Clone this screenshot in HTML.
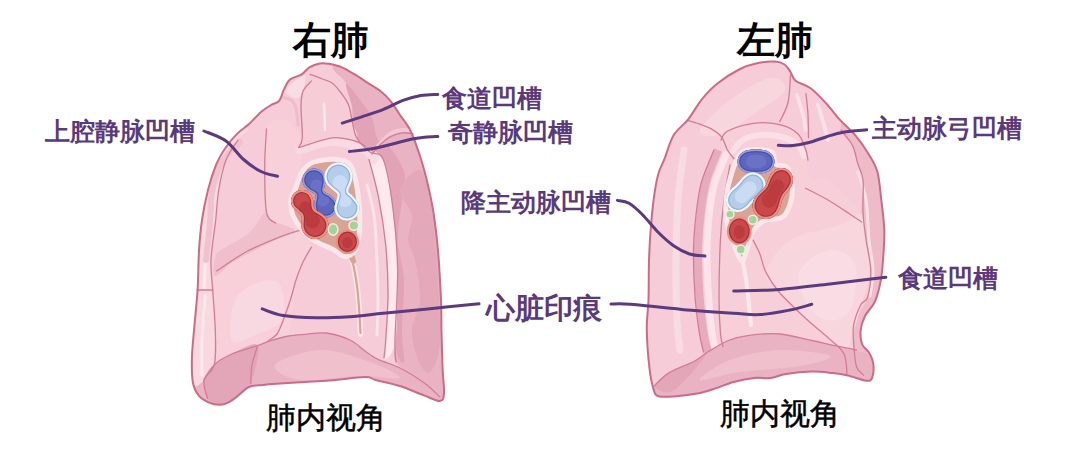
<!DOCTYPE html>
<html><head><meta charset="utf-8">
<style>
html,body{margin:0;padding:0;background:#fff;width:1080px;height:463px;overflow:hidden}
body{position:relative;font-family:"Liberation Sans",sans-serif}
svg{position:absolute;left:0;top:0}
.t{position:absolute;white-space:nowrap;line-height:1}
.ttl{font-size:38px;font-weight:700;color:#000}
.lab{font-size:25px;font-weight:700;color:#5a3a7c}
.sub{font-size:30px;font-weight:400;color:#000;-webkit-text-stroke:0.5px #000}
</style></head><body>
<svg width="1080" height="463" viewBox="0 0 1080 463"><clipPath id="rc"><path d="M319.8,63.4 C323.1,62.8 325.2,63.1 328.9,63.8 C332.6,64.5 337.5,65.5 341.8,67.3 C346.1,69.1 350.5,71.8 354.8,74.4 C359.1,77.0 363.4,80.1 367.7,82.9 C372.0,85.7 376.8,88.2 380.7,91.3 C384.6,94.4 387.8,97.6 391.0,101.6 C394.2,105.5 396.7,110.1 400.0,115.0 C403.3,119.9 407.3,124.2 410.6,131.0 C413.9,137.8 417.1,147.2 420.0,156.0 C422.9,164.8 425.4,174.3 427.7,184.0 C430.0,193.7 432.0,202.9 433.7,214.0 C435.4,225.1 436.8,236.4 438.0,250.7 C439.2,265.0 440.4,286.4 441.0,300.0 C441.6,313.6 441.2,320.6 441.5,332.0 C441.8,343.4 442.2,358.5 442.6,368.7 C443.0,378.9 444.4,387.6 444.0,393.0 C443.6,398.4 443.3,400.6 440.0,401.0 C436.7,401.4 430.7,397.9 424.0,395.4 C417.3,392.9 408.1,388.6 400.0,386.0 C391.9,383.4 381.4,381.5 375.6,380.0 C369.8,378.5 372.6,376.9 365.0,377.0 C357.4,377.1 340.0,379.7 330.0,380.5 C320.0,381.3 313.3,381.5 305.0,382.0 C296.7,382.5 287.0,383.1 280.0,383.6 C273.0,384.1 268.0,384.4 262.8,385.0 C257.6,385.6 253.3,385.1 249.0,387.0 C244.7,388.9 240.5,394.0 237.0,396.6 C233.5,399.2 230.9,401.2 228.0,402.6 C225.1,404.0 222.8,404.7 219.6,404.7 C216.4,404.7 212.5,404.1 209.0,402.6 C205.5,401.1 201.5,399.1 198.8,395.7 C196.1,392.3 193.9,388.6 192.8,382.0 C191.7,375.4 191.7,365.5 192.0,356.0 C192.3,346.5 193.6,336.0 194.5,325.0 C195.4,314.0 196.8,302.3 197.6,290.0 C198.3,277.7 198.3,262.7 199.0,251.0 C199.7,239.3 200.5,230.2 202.0,220.0 C203.5,209.8 205.7,199.2 208.0,190.0 C210.3,180.8 213.1,172.1 216.0,165.0 C218.9,157.9 222.0,153.0 225.6,147.7 C229.2,142.4 233.6,137.3 237.5,133.4 C241.4,129.5 245.1,127.6 249.0,124.0 C252.9,120.4 257.3,115.2 261.0,112.0 C264.7,108.8 268.0,106.8 271.0,105.0 C274.0,103.2 276.8,103.6 279.0,101.0 C281.2,98.4 282.2,93.0 284.0,89.4 C285.8,85.8 287.1,82.1 290.0,79.6 C292.9,77.1 298.5,76.5 301.7,74.4 C304.9,72.4 306.4,69.1 309.4,67.3 C312.4,65.5 316.6,64.0 319.8,63.4 Z"/></clipPath>
<path d="M319.8,63.4 C323.1,62.8 325.2,63.1 328.9,63.8 C332.6,64.5 337.5,65.5 341.8,67.3 C346.1,69.1 350.5,71.8 354.8,74.4 C359.1,77.0 363.4,80.1 367.7,82.9 C372.0,85.7 376.8,88.2 380.7,91.3 C384.6,94.4 387.8,97.6 391.0,101.6 C394.2,105.5 396.7,110.1 400.0,115.0 C403.3,119.9 407.3,124.2 410.6,131.0 C413.9,137.8 417.1,147.2 420.0,156.0 C422.9,164.8 425.4,174.3 427.7,184.0 C430.0,193.7 432.0,202.9 433.7,214.0 C435.4,225.1 436.8,236.4 438.0,250.7 C439.2,265.0 440.4,286.4 441.0,300.0 C441.6,313.6 441.2,320.6 441.5,332.0 C441.8,343.4 442.2,358.5 442.6,368.7 C443.0,378.9 444.4,387.6 444.0,393.0 C443.6,398.4 443.3,400.6 440.0,401.0 C436.7,401.4 430.7,397.9 424.0,395.4 C417.3,392.9 408.1,388.6 400.0,386.0 C391.9,383.4 381.4,381.5 375.6,380.0 C369.8,378.5 372.6,376.9 365.0,377.0 C357.4,377.1 340.0,379.7 330.0,380.5 C320.0,381.3 313.3,381.5 305.0,382.0 C296.7,382.5 287.0,383.1 280.0,383.6 C273.0,384.1 268.0,384.4 262.8,385.0 C257.6,385.6 253.3,385.1 249.0,387.0 C244.7,388.9 240.5,394.0 237.0,396.6 C233.5,399.2 230.9,401.2 228.0,402.6 C225.1,404.0 222.8,404.7 219.6,404.7 C216.4,404.7 212.5,404.1 209.0,402.6 C205.5,401.1 201.5,399.1 198.8,395.7 C196.1,392.3 193.9,388.6 192.8,382.0 C191.7,375.4 191.7,365.5 192.0,356.0 C192.3,346.5 193.6,336.0 194.5,325.0 C195.4,314.0 196.8,302.3 197.6,290.0 C198.3,277.7 198.3,262.7 199.0,251.0 C199.7,239.3 200.5,230.2 202.0,220.0 C203.5,209.8 205.7,199.2 208.0,190.0 C210.3,180.8 213.1,172.1 216.0,165.0 C218.9,157.9 222.0,153.0 225.6,147.7 C229.2,142.4 233.6,137.3 237.5,133.4 C241.4,129.5 245.1,127.6 249.0,124.0 C252.9,120.4 257.3,115.2 261.0,112.0 C264.7,108.8 268.0,106.8 271.0,105.0 C274.0,103.2 276.8,103.6 279.0,101.0 C281.2,98.4 282.2,93.0 284.0,89.4 C285.8,85.8 287.1,82.1 290.0,79.6 C292.9,77.1 298.5,76.5 301.7,74.4 C304.9,72.4 306.4,69.1 309.4,67.3 C312.4,65.5 316.6,64.0 319.8,63.4 Z" fill="#f5ccd7" stroke="none" stroke-width="0" />
<g clip-path="url(#rc)"><path d="M266.0,128.0 C269.3,120.3 279.0,118.0 285.0,120.0 C291.0,122.0 299.5,131.7 302.0,140.0 C304.5,148.3 301.3,160.0 300.0,170.0 C298.7,180.0 294.0,190.0 294.0,200.0 C294.0,210.0 303.0,226.0 300.0,230.0 C297.0,234.0 281.7,227.0 276.0,224.0 C270.3,221.0 267.8,221.7 266.0,212.0 C264.2,202.3 265.0,180.0 265.0,166.0 C265.0,152.0 262.7,135.7 266.0,128.0 Z" fill="#f7d0d9" stroke="none" stroke-width="0" /><path d="M334.0,64.0 C328.1,69.2 341.6,76.0 344.4,81.0 C347.2,86.0 349.7,88.3 351.0,94.0 C352.3,99.7 351.1,107.7 352.0,115.0 C352.9,122.3 353.7,131.6 356.7,137.8 C359.7,144.0 365.6,148.4 370.0,152.0 C374.4,155.6 379.5,150.3 383.3,159.5 C387.1,168.7 390.4,188.8 392.8,207.0 C395.2,225.2 397.2,246.8 397.6,269.0 C398.0,291.2 395.3,325.0 395.0,340.5 C394.7,356.0 391.8,355.4 396.0,362.0 C400.2,368.6 411.0,373.7 420.0,380.0 C429.0,386.3 443.3,413.3 450.0,400.0 C456.7,386.7 460.0,350.0 460.0,300.0 C460.0,250.0 463.3,141.7 450.0,100.0 C436.7,58.3 399.3,56.0 380.0,50.0 C360.7,44.0 339.9,58.8 334.0,64.0 Z" fill="#e9b3c3" stroke="none" stroke-width="0" /><path d="M346.0,84.0 C347.2,82.3 355.7,94.3 360.0,100.0 C364.3,105.7 369.0,111.3 372.0,118.0 C375.0,124.7 374.7,134.7 378.0,140.0 C381.3,145.3 387.5,144.2 392.0,150.0 C396.5,155.8 403.3,166.7 405.0,175.0 C406.7,183.3 403.2,189.2 402.0,200.0 C400.8,210.8 397.7,226.7 398.0,240.0 C398.3,253.3 403.3,265.0 404.0,280.0 C404.7,295.0 402.0,316.3 402.0,330.0 C402.0,343.7 405.0,359.5 404.0,362.0 C403.0,364.5 397.0,360.5 396.0,345.0 C395.0,329.5 398.5,292.0 398.0,269.0 C397.5,246.0 395.3,225.2 393.0,207.0 C390.7,188.8 390.0,171.5 384.0,160.0 C378.0,148.5 362.2,146.3 357.0,138.0 C351.8,129.7 354.8,119.0 353.0,110.0 C351.2,101.0 344.8,85.7 346.0,84.0 Z" fill="#e2a3b7" stroke="none" stroke-width="0" /><path d="M400.0,190.0 C398.7,197.5 410.7,206.7 412.0,215.0 C413.3,223.3 407.5,232.5 408.0,240.0 C408.5,247.5 413.0,250.0 415.0,260.0 C417.0,270.0 420.5,288.3 420.0,300.0 C419.5,311.7 412.3,320.0 412.0,330.0 C411.7,340.0 415.0,353.0 418.0,360.0 C421.0,367.0 426.3,375.3 430.0,372.0 C433.7,368.7 439.0,360.3 440.0,340.0 C441.0,319.7 437.7,273.3 436.0,250.0 C434.3,226.7 432.7,213.3 430.0,200.0 C427.3,186.7 425.0,171.7 420.0,170.0 C415.0,168.3 401.3,182.5 400.0,190.0 Z" fill="#e4a8bb" stroke="none" stroke-width="0" /><path d="M370.0,160.0 C369.3,166.3 376.3,183.4 379.0,197.6 C381.7,211.8 384.4,229.1 386.0,245.0 C387.6,260.9 388.5,277.1 388.5,293.0 C388.5,308.9 386.8,329.3 386.0,340.5 C385.2,351.7 382.4,360.0 384.0,360.0 C385.6,360.0 393.3,355.7 395.5,340.5 C397.7,325.3 397.5,291.2 397.0,269.0 C396.5,246.8 394.6,225.2 392.3,207.0 C390.0,188.8 386.7,167.8 383.0,160.0 C379.3,152.2 370.7,153.7 370.0,160.0 Z" fill="#fde9ee" stroke="none" stroke-width="0" /><path d="M367.0,185.0 C368.2,190.0 372.3,202.5 374.0,215.0 C375.7,227.5 376.3,245.8 377.0,260.0 C377.7,274.2 378.0,287.5 378.0,300.0 C378.0,312.5 377.2,329.2 377.0,335.0" fill="none" stroke="#fbe3e9" stroke-width="3" stroke-linecap="round"/><path d="M180.0,120.0 C190.8,74.2 235.3,121.7 245.0,125.0 C254.7,128.3 241.2,134.2 238.0,140.0 C234.8,145.8 229.2,151.7 226.0,160.0 C222.8,168.3 220.4,180.0 218.7,190.0 C217.0,200.0 217.0,208.3 215.7,220.0 C214.4,231.7 211.5,248.3 211.0,260.0 C210.5,271.7 212.0,278.3 212.7,290.0 C213.4,301.7 215.0,317.6 215.3,330.0 C215.6,342.4 216.3,356.3 214.4,364.6 C212.5,372.9 209.7,374.1 204.0,380.0 C198.3,385.9 184.0,443.3 180.0,400.0 C176.0,356.7 169.2,165.8 180.0,120.0 Z" fill="#f9d8e0" stroke="none" stroke-width="0" /><path d="M224.0,155.0 C222.2,160.8 215.8,175.8 213.0,190.0 C210.2,204.2 208.5,223.7 207.0,240.0 C205.5,256.3 204.5,280.0 204.0,288.0" fill="none" stroke="#fde9ee" stroke-width="3" stroke-linecap="round"/><path d="M205.0,296.0 C204.5,303.3 202.5,326.8 202.0,340.0 C201.5,353.2 202.0,369.2 202.0,375.0" fill="none" stroke="#fde9ee" stroke-width="3" stroke-linecap="round"/><path d="M302.0,92.0 C303.6,87.8 306.1,82.7 310.8,81.0 C315.5,79.3 324.4,79.4 330.0,82.0 C335.6,84.6 341.0,90.2 344.6,96.7 C348.2,103.2 349.9,114.1 351.9,120.9 C353.9,127.8 359.9,135.0 356.7,137.8 C353.5,140.6 341.6,137.4 332.5,137.8 C323.4,138.2 307.6,145.3 302.3,140.0 C297.1,134.7 301.1,114.0 301.0,106.0 C300.9,98.0 300.4,96.2 302.0,92.0 Z" fill="#f6ccd6" stroke="none" stroke-width="0" /><path d="M286.0,90.0 C287.0,87.3 292.8,82.3 296.0,80.0 C299.2,77.7 303.8,74.3 305.0,76.0 C306.2,77.7 304.2,86.3 303.0,90.0 C301.8,93.7 300.2,97.0 298.0,98.0 C295.8,99.0 292.0,97.3 290.0,96.0 C288.0,94.7 285.0,92.7 286.0,90.0 Z" fill="#f9dde4" stroke="none" stroke-width="0" /><path d="M281.0,97.0 C282.7,97.5 288.5,98.2 291.0,100.0 C293.5,101.8 294.8,103.8 296.0,108.0 C297.2,112.2 297.7,122.2 298.0,125.0" fill="none" stroke="#eebccb" stroke-width="3" stroke-linecap="round"/><path d="M324.0,104.0 C324.2,108.3 324.8,125.7 325.0,130.0" fill="none" stroke="#fde9ee" stroke-width="2.5" stroke-linecap="round"/><path d="M298.7,147.5 C304.1,144.8 322.0,138.4 332.5,137.8 C343.0,137.2 353.8,141.0 361.5,143.8 C369.2,146.6 376.5,151.3 378.5,154.7 C380.5,158.1 376.5,164.7 373.6,164.4 C370.7,164.1 367.9,156.1 361.0,153.0 C354.1,149.9 342.2,145.8 332.0,146.0 C321.8,146.2 305.6,153.8 300.0,154.0 C294.4,154.2 293.3,150.2 298.7,147.5 Z" fill="#f9dae2" stroke="none" stroke-width="0" /><path d="M378.0,146.0 C380.0,144.0 386.0,136.7 390.0,134.0 C394.0,131.3 398.0,130.5 402.0,130.0 C406.0,129.5 412.0,130.8 414.0,131.0" fill="none" stroke="#f3c6d2" stroke-width="4" stroke-linecap="round"/><path d="M216.6,271.0 C222.3,264.6 236.0,257.3 246.8,251.5 C257.6,245.7 272.4,240.0 281.4,236.4 C290.4,232.8 295.8,228.2 300.8,230.0 C305.8,231.8 311.2,241.7 311.6,247.0 C312.0,252.3 305.9,254.4 303.0,262.0 C300.1,269.6 296.5,280.2 294.0,292.5 C291.5,304.8 293.7,327.1 288.0,335.7 C282.3,344.3 269.4,340.9 260.0,344.0 C250.6,347.1 239.3,350.6 231.7,354.0 C224.1,357.4 217.1,368.6 214.4,364.6 C211.7,360.6 215.6,342.4 215.3,330.0 C215.0,317.6 212.5,299.8 212.7,290.0 C212.9,280.2 210.9,277.4 216.6,271.0 Z" fill="#f7d0da" stroke="none" stroke-width="0" /><path d="M215.0,258.0 C216.1,253.6 215.8,253.9 221.6,249.6 C227.4,245.3 242.4,238.5 249.6,232.4 C256.8,226.3 260.8,214.9 264.7,213.0 C268.6,211.1 267.9,218.1 273.0,221.0 C278.1,223.9 294.6,227.3 295.0,230.5 C295.4,233.7 282.3,236.6 275.5,240.0 C268.7,243.4 261.2,246.9 254.0,250.7 C246.8,254.5 238.9,258.4 232.4,262.6 C225.9,266.8 217.9,276.8 215.0,276.0 C212.1,275.2 213.9,262.4 215.0,258.0 Z" fill="#efbfcc" stroke="none" stroke-width="0" /><path d="M240.0,142.0 C237.0,145.3 226.7,153.7 222.0,162.0 C217.3,170.3 214.0,182.0 212.0,192.0 C210.0,202.0 211.0,210.7 210.0,222.0 C209.0,233.3 206.7,253.7 206.0,260.0" fill="none" stroke="#f0c2ce" stroke-width="6" stroke-linecap="round"/><path d="M235.0,300.0 C239.7,290.3 252.5,284.5 260.0,282.0 C267.5,279.5 276.3,278.7 280.0,285.0 C283.7,291.3 286.2,311.7 282.0,320.0 C277.8,328.3 263.3,331.7 255.0,335.0 C246.7,338.3 235.3,345.8 232.0,340.0 C228.7,334.2 230.3,309.7 235.0,300.0 Z" fill="#f9d9e1" stroke="none" stroke-width="0" /><path d="M204.0,380.0 C209.7,370.8 209.8,368.9 214.4,364.6 C219.0,360.3 224.5,357.2 231.7,354.0 C238.9,350.8 251.0,347.9 257.6,345.6 C264.2,343.3 266.3,342.0 271.5,340.4 C276.7,338.8 283.1,337.0 288.7,336.0 C294.3,335.0 298.8,334.8 305.0,334.3 C311.2,333.8 318.5,332.1 326.0,333.0 C333.5,333.9 343.5,337.0 350.0,340.0 C356.5,343.0 360.2,347.7 365.0,351.0 C369.8,354.3 372.9,356.9 378.7,359.7 C384.5,362.5 392.4,364.2 400.0,368.0 C407.6,371.8 416.3,377.7 424.0,382.7 C431.7,387.7 441.7,391.8 446.0,398.0 C450.3,404.2 494.3,416.3 450.0,420.0 C405.7,423.7 221.0,426.7 180.0,420.0 C139.0,413.3 198.3,389.2 204.0,380.0 Z" fill="#eab3c3" stroke="none" stroke-width="0" /><path d="M204.0,380.0 C205.2,374.4 209.8,368.9 214.4,364.6 C219.0,360.3 224.5,357.2 231.7,354.0 C238.9,350.8 254.4,340.7 257.6,345.6 C260.8,350.5 254.1,375.1 250.7,383.6 C247.3,392.1 242.1,393.0 237.0,396.6 C231.9,400.2 224.9,404.7 220.0,405.0 C215.1,405.3 210.2,402.5 207.5,398.3 C204.8,394.1 202.8,385.6 204.0,380.0 Z" fill="#e3a5b8" stroke="none" stroke-width="0" /><path d="M275.0,365.0 C278.3,360.0 304.2,350.5 320.0,350.0 C335.8,349.5 356.7,357.3 370.0,362.0 C383.3,366.7 401.7,375.7 400.0,378.0 C398.3,380.3 376.7,375.7 360.0,376.0 C343.3,376.3 314.2,381.8 300.0,380.0 C285.8,378.2 271.7,370.0 275.0,365.0 Z" fill="#f0c0cd" stroke="none" stroke-width="0" /></g>
<path d="M238.0,140.0 C236.0,143.3 229.2,151.7 226.0,160.0 C222.8,168.3 220.4,180.0 218.7,190.0 C217.0,200.0 217.0,208.3 215.7,220.0 C214.4,231.7 211.5,248.3 211.0,260.0 C210.5,271.7 212.0,278.3 212.7,290.0 C213.4,301.7 215.0,317.6 215.3,330.0 C215.6,342.4 216.3,356.3 214.4,364.6 C212.5,372.9 205.2,374.4 204.0,380.0 C202.8,385.6 206.9,395.2 207.5,398.3" fill="none" stroke="#d27d95" stroke-width="1.3" stroke-linecap="round"/>
<path d="M197.0,290.0 C199.7,290.0 210.3,290.0 213.0,290.0" fill="none" stroke="#d27d95" stroke-width="1.3" stroke-linecap="round"/>
<path d="M204.0,380.0 C205.7,377.4 209.8,368.9 214.4,364.6 C219.0,360.3 224.5,357.2 231.7,354.0 C238.9,350.8 251.0,347.9 257.6,345.6 C264.2,343.3 266.3,342.0 271.5,340.4 C276.7,338.8 283.1,337.0 288.7,336.0 C294.3,335.0 298.8,334.8 305.0,334.3 C311.2,333.8 318.5,332.1 326.0,333.0 C333.5,333.9 343.5,337.0 350.0,340.0 C356.5,343.0 360.2,347.7 365.0,351.0 C369.8,354.3 372.9,356.9 378.7,359.7 C384.5,362.5 392.4,364.2 400.0,368.0 C407.6,371.8 417.4,377.9 424.0,382.7 C430.6,387.5 437.2,394.4 439.8,396.8" fill="none" stroke="#d27d95" stroke-width="1.3" stroke-linecap="round"/>
<path d="M257.6,345.6 C256.7,348.8 253.2,358.7 252.0,365.0 C250.8,371.3 250.9,380.5 250.7,383.6" fill="none" stroke="#d27d95" stroke-width="1.3" stroke-linecap="round"/>
<path d="M216.6,271.0 C221.6,267.8 236.0,257.3 246.8,251.5 C257.6,245.7 272.4,240.0 281.4,236.4 C290.4,232.8 297.6,231.1 300.8,230.0" fill="none" stroke="#d27d95" stroke-width="1.3" stroke-linecap="round"/>
<path d="M311.6,247.0 C310.2,249.5 305.6,256.5 303.0,262.0 C300.4,267.5 298.0,274.0 296.0,280.0 C294.0,286.0 293.0,291.7 291.0,298.0 C289.0,304.3 286.3,312.0 284.0,318.0 C281.7,324.0 279.7,330.2 277.0,334.0 C274.3,337.8 269.5,339.8 268.0,341.0" fill="none" stroke="#d27d95" stroke-width="1.3" stroke-linecap="round"/>
<path d="M311.4,80.9 C310.0,82.6 304.7,87.0 303.0,91.3 C301.3,95.6 301.1,99.0 301.0,106.8 C300.9,114.5 302.7,131.0 302.3,137.8 C301.9,144.6 299.3,145.9 298.7,147.5" fill="none" stroke="#d27d95" stroke-width="1.3" stroke-linecap="round"/>
<path d="M310.0,74.4 C312.1,75.2 318.6,77.5 322.4,79.0 C326.2,80.5 329.6,81.0 332.8,83.5 C336.0,86.0 339.2,90.5 341.8,93.9 C344.4,97.4 346.8,100.7 348.3,104.2 C349.8,107.7 350.2,111.5 351.0,115.0 C351.8,118.5 352.1,121.2 353.0,125.0 C353.9,128.8 353.9,133.3 356.7,137.8 C359.5,142.3 365.6,148.4 370.0,152.0 C374.4,155.6 379.5,150.3 383.3,159.5 C387.1,168.7 390.4,188.8 392.8,207.0 C395.2,225.2 397.2,246.8 397.6,269.0 C398.0,291.2 395.3,325.0 395.0,340.5 C394.7,356.0 395.8,358.4 396.0,362.0" fill="none" stroke="#d27d95" stroke-width="1.3" stroke-linecap="round"/>
<path d="M369.0,159.5 C370.6,165.8 375.8,183.3 378.6,197.6 C381.4,211.8 384.1,229.1 385.7,245.0 C387.3,260.9 388.0,277.1 388.0,293.0 C388.0,308.9 386.4,329.7 385.7,340.5 C385.0,351.3 384.3,355.1 384.0,358.0" fill="none" stroke="#d27d95" stroke-width="1.3" stroke-linecap="round"/>
<path d="M298.7,147.5 C304.3,145.9 323.1,138.9 332.5,137.8 C341.9,136.7 349.2,139.5 355.0,141.0 C360.8,142.5 363.8,145.2 367.0,147.0 C370.2,148.8 372.8,151.2 374.0,152.0" fill="none" stroke="#d27d95" stroke-width="1.3" stroke-linecap="round"/>
<path d="M372.0,154.0 C373.7,152.2 378.8,145.9 382.0,143.0 C385.2,140.1 387.5,138.0 391.0,136.3 C394.5,134.6 399.1,133.2 402.8,132.8 C406.5,132.4 411.3,133.8 413.0,134.0" fill="none" stroke="#d27d95" stroke-width="1.3" stroke-linecap="round"/>
<path d="M266.5,128.8 C266.2,135.0 264.7,152.1 264.7,166.0 C264.7,179.9 264.7,202.9 266.5,212.4 C268.3,221.9 273.9,221.2 275.4,223.0" fill="none" stroke="#d27d95" stroke-width="1.3" stroke-linecap="round"/>
<path d="M319.8,63.4 C323.1,62.8 325.2,63.1 328.9,63.8 C332.6,64.5 337.5,65.5 341.8,67.3 C346.1,69.1 350.5,71.8 354.8,74.4 C359.1,77.0 363.4,80.1 367.7,82.9 C372.0,85.7 376.8,88.2 380.7,91.3 C384.6,94.4 387.8,97.6 391.0,101.6 C394.2,105.5 396.7,110.1 400.0,115.0 C403.3,119.9 407.3,124.2 410.6,131.0 C413.9,137.8 417.1,147.2 420.0,156.0 C422.9,164.8 425.4,174.3 427.7,184.0 C430.0,193.7 432.0,202.9 433.7,214.0 C435.4,225.1 436.8,236.4 438.0,250.7 C439.2,265.0 440.4,286.4 441.0,300.0 C441.6,313.6 441.2,320.6 441.5,332.0 C441.8,343.4 442.2,358.5 442.6,368.7 C443.0,378.9 444.4,387.6 444.0,393.0 C443.6,398.4 443.3,400.6 440.0,401.0 C436.7,401.4 430.7,397.9 424.0,395.4 C417.3,392.9 408.1,388.6 400.0,386.0 C391.9,383.4 381.4,381.5 375.6,380.0 C369.8,378.5 372.6,376.9 365.0,377.0 C357.4,377.1 340.0,379.7 330.0,380.5 C320.0,381.3 313.3,381.5 305.0,382.0 C296.7,382.5 287.0,383.1 280.0,383.6 C273.0,384.1 268.0,384.4 262.8,385.0 C257.6,385.6 253.3,385.1 249.0,387.0 C244.7,388.9 240.5,394.0 237.0,396.6 C233.5,399.2 230.9,401.2 228.0,402.6 C225.1,404.0 222.8,404.7 219.6,404.7 C216.4,404.7 212.5,404.1 209.0,402.6 C205.5,401.1 201.5,399.1 198.8,395.7 C196.1,392.3 193.9,388.6 192.8,382.0 C191.7,375.4 191.7,365.5 192.0,356.0 C192.3,346.5 193.6,336.0 194.5,325.0 C195.4,314.0 196.8,302.3 197.6,290.0 C198.3,277.7 198.3,262.7 199.0,251.0 C199.7,239.3 200.5,230.2 202.0,220.0 C203.5,209.8 205.7,199.2 208.0,190.0 C210.3,180.8 213.1,172.1 216.0,165.0 C218.9,157.9 222.0,153.0 225.6,147.7 C229.2,142.4 233.6,137.3 237.5,133.4 C241.4,129.5 245.1,127.6 249.0,124.0 C252.9,120.4 257.3,115.2 261.0,112.0 C264.7,108.8 268.0,106.8 271.0,105.0 C274.0,103.2 276.8,103.6 279.0,101.0 C281.2,98.4 282.2,93.0 284.0,89.4 C285.8,85.8 287.1,82.1 290.0,79.6 C292.9,77.1 298.5,76.5 301.7,74.4 C304.9,72.4 306.4,69.1 309.4,67.3 C312.4,65.5 316.6,64.0 319.8,63.4 Z" fill="none" stroke="#cd6a86" stroke-width="2" />
<path d="M349.0,250.0 C349.8,253.0 352.6,261.3 354.0,268.0 C355.4,274.7 356.6,282.2 357.5,290.0 C358.4,297.8 359.0,307.7 359.5,315.0 C360.0,322.3 360.3,330.8 360.5,334.0" fill="none" stroke="#fbe6ea" stroke-width="5.5" stroke-linecap="round"/>
<path d="M349.0,250.0 C349.8,253.0 352.6,261.3 354.0,268.0 C355.4,274.7 356.6,282.2 357.5,290.0 C358.4,297.8 359.0,307.8 359.5,315.0 C360.0,322.2 360.3,330.0 360.5,333.0" fill="none" stroke="#d9a395" stroke-width="2.2" stroke-linecap="round"/>
<path d="M345.0,248.0 C345.2,246.0 350.2,247.7 352.0,250.0 C353.8,252.3 356.2,260.0 356.0,262.0 C355.8,264.0 352.8,264.3 351.0,262.0 C349.2,259.7 344.8,250.0 345.0,248.0 Z" fill="#d9a395" stroke="none" stroke-width="0" />
<path d="M295.5,189.0 C297.3,184.3 299.0,176.5 302.0,172.0 C305.0,167.5 307.9,164.1 313.7,162.0 C319.5,159.9 330.8,158.7 337.0,159.4 C343.2,160.1 347.6,160.6 351.0,166.0 C354.4,171.4 356.2,182.3 357.7,191.8 C359.2,201.3 360.0,214.4 360.0,223.0 C360.0,231.6 358.7,238.8 357.7,243.6 C356.7,248.4 356.1,249.8 354.0,252.0 C351.9,254.2 348.5,257.1 344.8,256.6 C341.1,256.1 337.4,251.8 331.8,248.8 C326.2,245.8 317.3,243.6 311.0,238.4 C304.7,233.2 297.3,224.1 294.0,217.7 C290.7,211.3 290.8,204.8 291.0,200.0 C291.2,195.2 293.7,193.7 295.5,189.0 Z" fill="#d9a395" stroke="#fbe6ea" stroke-width="5" />
<clipPath id="b1"><path d="M326.2,193.0 C327.1,193.6 328.9,194.2 330.5,195.4 C332.1,196.7 334.6,198.8 335.7,200.7 C336.8,202.6 337.1,204.8 337.0,206.7 C336.9,208.7 336.1,210.7 335.1,212.3 C334.1,213.9 332.5,215.3 330.9,216.2 C329.3,217.0 327.2,217.5 325.3,217.5 C323.5,217.5 321.4,216.9 319.8,216.0 C318.1,215.0 316.4,213.5 315.5,211.7 C314.5,209.8 314.1,207.0 314.1,204.8 C314.0,202.7 315.0,200.1 315.2,198.7 C315.5,197.2 315.6,196.9 315.6,196.3 C315.7,195.7 315.6,195.4 315.4,195.1 C315.3,194.7 315.2,194.5 314.8,194.1 C314.5,193.8 314.3,193.6 313.3,193.0 C312.4,192.4 310.6,191.8 309.0,190.6 C307.4,189.3 304.9,187.2 303.8,185.3 C302.7,183.4 302.4,181.2 302.5,179.3 C302.6,177.3 303.4,175.3 304.4,173.7 C305.4,172.1 307.0,170.7 308.6,169.8 C310.2,169.0 312.3,168.5 314.2,168.5 C316.0,168.5 318.1,169.1 319.8,170.0 C321.4,171.0 323.1,172.5 324.0,174.3 C325.0,176.2 325.4,179.0 325.4,181.2 C325.5,183.3 324.5,185.9 324.3,187.3 C324.0,188.8 323.9,189.1 323.9,189.7 C323.8,190.3 323.9,190.6 324.1,190.9 C324.2,191.3 324.3,191.5 324.7,191.9 C325.0,192.2 325.2,192.4 326.2,193.0 Z"/></clipPath><path d="M326.2,193.0 C327.1,193.6 328.9,194.2 330.5,195.4 C332.1,196.7 334.6,198.8 335.7,200.7 C336.8,202.6 337.1,204.8 337.0,206.7 C336.9,208.7 336.1,210.7 335.1,212.3 C334.1,213.9 332.5,215.3 330.9,216.2 C329.3,217.0 327.2,217.5 325.3,217.5 C323.5,217.5 321.4,216.9 319.8,216.0 C318.1,215.0 316.4,213.5 315.5,211.7 C314.5,209.8 314.1,207.0 314.1,204.8 C314.0,202.7 315.0,200.1 315.2,198.7 C315.5,197.2 315.6,196.9 315.6,196.3 C315.7,195.7 315.6,195.4 315.4,195.1 C315.3,194.7 315.2,194.5 314.8,194.1 C314.5,193.8 314.3,193.6 313.3,193.0 C312.4,192.4 310.6,191.8 309.0,190.6 C307.4,189.3 304.9,187.2 303.8,185.3 C302.7,183.4 302.4,181.2 302.5,179.3 C302.6,177.3 303.4,175.3 304.4,173.7 C305.4,172.1 307.0,170.7 308.6,169.8 C310.2,169.0 312.3,168.5 314.2,168.5 C316.0,168.5 318.1,169.1 319.8,170.0 C321.4,171.0 323.1,172.5 324.0,174.3 C325.0,176.2 325.4,179.0 325.4,181.2 C325.5,183.3 324.5,185.9 324.3,187.3 C324.0,188.8 323.9,189.1 323.9,189.7 C323.8,190.3 323.9,190.6 324.1,190.9 C324.2,191.3 324.3,191.5 324.7,191.9 C325.0,192.2 325.2,192.4 326.2,193.0 Z" fill="#5d65bc" stroke="none" stroke-width="0" /><g transform="translate(319.8,193.0) scale(0.55) translate(-319.8,-193.0)"><path d="M326.2,193.0 C327.1,193.6 328.9,194.2 330.5,195.4 C332.1,196.7 334.6,198.8 335.7,200.7 C336.8,202.6 337.1,204.8 337.0,206.7 C336.9,208.7 336.1,210.7 335.1,212.3 C334.1,213.9 332.5,215.3 330.9,216.2 C329.3,217.0 327.2,217.5 325.3,217.5 C323.5,217.5 321.4,216.9 319.8,216.0 C318.1,215.0 316.4,213.5 315.5,211.7 C314.5,209.8 314.1,207.0 314.1,204.8 C314.0,202.7 315.0,200.1 315.2,198.7 C315.5,197.2 315.6,196.9 315.6,196.3 C315.7,195.7 315.6,195.4 315.4,195.1 C315.3,194.7 315.2,194.5 314.8,194.1 C314.5,193.8 314.3,193.6 313.3,193.0 C312.4,192.4 310.6,191.8 309.0,190.6 C307.4,189.3 304.9,187.2 303.8,185.3 C302.7,183.4 302.4,181.2 302.5,179.3 C302.6,177.3 303.4,175.3 304.4,173.7 C305.4,172.1 307.0,170.7 308.6,169.8 C310.2,169.0 312.3,168.5 314.2,168.5 C316.0,168.5 318.1,169.1 319.8,170.0 C321.4,171.0 323.1,172.5 324.0,174.3 C325.0,176.2 325.4,179.0 325.4,181.2 C325.5,183.3 324.5,185.9 324.3,187.3 C324.0,188.8 323.9,189.1 323.9,189.7 C323.8,190.3 323.9,190.6 324.1,190.9 C324.2,191.3 324.3,191.5 324.7,191.9 C325.0,192.2 325.2,192.4 326.2,193.0 Z" fill="#6a72c6" stroke="none" stroke-width="0" /></g><g clip-path="url(#b1)"><path d="M326.2,193.0 C327.1,193.6 328.9,194.2 330.5,195.4 C332.1,196.7 334.6,198.8 335.7,200.7 C336.8,202.6 337.1,204.8 337.0,206.7 C336.9,208.7 336.1,210.7 335.1,212.3 C334.1,213.9 332.5,215.3 330.9,216.2 C329.3,217.0 327.2,217.5 325.3,217.5 C323.5,217.5 321.4,216.9 319.8,216.0 C318.1,215.0 316.4,213.5 315.5,211.7 C314.5,209.8 314.1,207.0 314.1,204.8 C314.0,202.7 315.0,200.1 315.2,198.7 C315.5,197.2 315.6,196.9 315.6,196.3 C315.7,195.7 315.6,195.4 315.4,195.1 C315.3,194.7 315.2,194.5 314.8,194.1 C314.5,193.8 314.3,193.6 313.3,193.0 C312.4,192.4 310.6,191.8 309.0,190.6 C307.4,189.3 304.9,187.2 303.8,185.3 C302.7,183.4 302.4,181.2 302.5,179.3 C302.6,177.3 303.4,175.3 304.4,173.7 C305.4,172.1 307.0,170.7 308.6,169.8 C310.2,169.0 312.3,168.5 314.2,168.5 C316.0,168.5 318.1,169.1 319.8,170.0 C321.4,171.0 323.1,172.5 324.0,174.3 C325.0,176.2 325.4,179.0 325.4,181.2 C325.5,183.3 324.5,185.9 324.3,187.3 C324.0,188.8 323.9,189.1 323.9,189.7 C323.8,190.3 323.9,190.6 324.1,190.9 C324.2,191.3 324.3,191.5 324.7,191.9 C325.0,192.2 325.2,192.4 326.2,193.0 Z" fill="none" stroke="#474ea7" stroke-width="5.8" /><path d="M326.2,193.0 C327.1,193.6 328.9,194.2 330.5,195.4 C332.1,196.7 334.6,198.8 335.7,200.7 C336.8,202.6 337.1,204.8 337.0,206.7 C336.9,208.7 336.1,210.7 335.1,212.3 C334.1,213.9 332.5,215.3 330.9,216.2 C329.3,217.0 327.2,217.5 325.3,217.5 C323.5,217.5 321.4,216.9 319.8,216.0 C318.1,215.0 316.4,213.5 315.5,211.7 C314.5,209.8 314.1,207.0 314.1,204.8 C314.0,202.7 315.0,200.1 315.2,198.7 C315.5,197.2 315.6,196.9 315.6,196.3 C315.7,195.7 315.6,195.4 315.4,195.1 C315.3,194.7 315.2,194.5 314.8,194.1 C314.5,193.8 314.3,193.6 313.3,193.0 C312.4,192.4 310.6,191.8 309.0,190.6 C307.4,189.3 304.9,187.2 303.8,185.3 C302.7,183.4 302.4,181.2 302.5,179.3 C302.6,177.3 303.4,175.3 304.4,173.7 C305.4,172.1 307.0,170.7 308.6,169.8 C310.2,169.0 312.3,168.5 314.2,168.5 C316.0,168.5 318.1,169.1 319.8,170.0 C321.4,171.0 323.1,172.5 324.0,174.3 C325.0,176.2 325.4,179.0 325.4,181.2 C325.5,183.3 324.5,185.9 324.3,187.3 C324.0,188.8 323.9,189.1 323.9,189.7 C323.8,190.3 323.9,190.6 324.1,190.9 C324.2,191.3 324.3,191.5 324.7,191.9 C325.0,192.2 325.2,192.4 326.2,193.0 Z" fill="none" stroke="#989ce0" stroke-width="3.4" /></g>
<clipPath id="b2"><path d="M348.3,191.4 C348.4,191.8 348.2,192.0 349.0,192.8 C349.8,193.7 351.3,194.5 353.0,196.4 C354.7,198.3 358.0,201.9 359.0,204.5 C360.0,207.1 359.5,209.7 358.9,211.9 C358.2,214.1 356.7,216.1 355.1,217.5 C353.5,218.9 351.2,220.0 349.1,220.3 C347.0,220.7 344.5,220.5 342.5,219.7 C340.5,218.9 338.3,217.4 337.0,215.5 C335.7,213.6 334.5,210.9 334.5,208.0 C334.5,205.1 336.5,200.4 337.0,198.2 C337.5,196.1 337.6,195.9 337.7,195.2 C337.7,194.5 337.5,194.3 337.3,193.9 C337.1,193.5 336.9,193.2 336.4,192.7 C336.0,192.3 335.6,192.0 334.8,191.4 C333.9,190.7 332.7,190.1 331.3,188.8 C329.9,187.5 327.6,185.6 326.4,183.6 C325.3,181.7 324.6,179.2 324.5,177.0 C324.4,174.8 324.9,172.4 325.9,170.5 C326.8,168.5 328.3,166.7 330.0,165.4 C331.7,164.1 333.9,163.1 336.0,162.7 C338.1,162.3 340.5,162.5 342.5,163.1 C344.5,163.7 346.7,164.9 348.2,166.4 C349.7,167.9 351.1,170.0 351.8,172.1 C352.5,174.2 352.5,177.0 352.2,179.2 C352.0,181.3 350.7,183.7 350.2,185.2 C349.6,186.8 349.1,187.5 348.8,188.3 C348.5,189.1 348.4,189.5 348.3,190.0 C348.2,190.5 348.2,190.9 348.3,191.4 Z"/></clipPath><path d="M348.3,191.4 C348.4,191.8 348.2,192.0 349.0,192.8 C349.8,193.7 351.3,194.5 353.0,196.4 C354.7,198.3 358.0,201.9 359.0,204.5 C360.0,207.1 359.5,209.7 358.9,211.9 C358.2,214.1 356.7,216.1 355.1,217.5 C353.5,218.9 351.2,220.0 349.1,220.3 C347.0,220.7 344.5,220.5 342.5,219.7 C340.5,218.9 338.3,217.4 337.0,215.5 C335.7,213.6 334.5,210.9 334.5,208.0 C334.5,205.1 336.5,200.4 337.0,198.2 C337.5,196.1 337.6,195.9 337.7,195.2 C337.7,194.5 337.5,194.3 337.3,193.9 C337.1,193.5 336.9,193.2 336.4,192.7 C336.0,192.3 335.6,192.0 334.8,191.4 C333.9,190.7 332.7,190.1 331.3,188.8 C329.9,187.5 327.6,185.6 326.4,183.6 C325.3,181.7 324.6,179.2 324.5,177.0 C324.4,174.8 324.9,172.4 325.9,170.5 C326.8,168.5 328.3,166.7 330.0,165.4 C331.7,164.1 333.9,163.1 336.0,162.7 C338.1,162.3 340.5,162.5 342.5,163.1 C344.5,163.7 346.7,164.9 348.2,166.4 C349.7,167.9 351.1,170.0 351.8,172.1 C352.5,174.2 352.5,177.0 352.2,179.2 C352.0,181.3 350.7,183.7 350.2,185.2 C349.6,186.8 349.1,187.5 348.8,188.3 C348.5,189.1 348.4,189.5 348.3,190.0 C348.2,190.5 348.2,190.9 348.3,191.4 Z" fill="#b4cdea" stroke="none" stroke-width="0" /><g transform="translate(342.4,190.8) scale(0.55) translate(-342.4,-190.8)"><path d="M348.3,191.4 C348.4,191.8 348.2,192.0 349.0,192.8 C349.8,193.7 351.3,194.5 353.0,196.4 C354.7,198.3 358.0,201.9 359.0,204.5 C360.0,207.1 359.5,209.7 358.9,211.9 C358.2,214.1 356.7,216.1 355.1,217.5 C353.5,218.9 351.2,220.0 349.1,220.3 C347.0,220.7 344.5,220.5 342.5,219.7 C340.5,218.9 338.3,217.4 337.0,215.5 C335.7,213.6 334.5,210.9 334.5,208.0 C334.5,205.1 336.5,200.4 337.0,198.2 C337.5,196.1 337.6,195.9 337.7,195.2 C337.7,194.5 337.5,194.3 337.3,193.9 C337.1,193.5 336.9,193.2 336.4,192.7 C336.0,192.3 335.6,192.0 334.8,191.4 C333.9,190.7 332.7,190.1 331.3,188.8 C329.9,187.5 327.6,185.6 326.4,183.6 C325.3,181.7 324.6,179.2 324.5,177.0 C324.4,174.8 324.9,172.4 325.9,170.5 C326.8,168.5 328.3,166.7 330.0,165.4 C331.7,164.1 333.9,163.1 336.0,162.7 C338.1,162.3 340.5,162.5 342.5,163.1 C344.5,163.7 346.7,164.9 348.2,166.4 C349.7,167.9 351.1,170.0 351.8,172.1 C352.5,174.2 352.5,177.0 352.2,179.2 C352.0,181.3 350.7,183.7 350.2,185.2 C349.6,186.8 349.1,187.5 348.8,188.3 C348.5,189.1 348.4,189.5 348.3,190.0 C348.2,190.5 348.2,190.9 348.3,191.4 Z" fill="#c9dcf1" stroke="none" stroke-width="0" /></g><g clip-path="url(#b2)"><path d="M348.3,191.4 C348.4,191.8 348.2,192.0 349.0,192.8 C349.8,193.7 351.3,194.5 353.0,196.4 C354.7,198.3 358.0,201.9 359.0,204.5 C360.0,207.1 359.5,209.7 358.9,211.9 C358.2,214.1 356.7,216.1 355.1,217.5 C353.5,218.9 351.2,220.0 349.1,220.3 C347.0,220.7 344.5,220.5 342.5,219.7 C340.5,218.9 338.3,217.4 337.0,215.5 C335.7,213.6 334.5,210.9 334.5,208.0 C334.5,205.1 336.5,200.4 337.0,198.2 C337.5,196.1 337.6,195.9 337.7,195.2 C337.7,194.5 337.5,194.3 337.3,193.9 C337.1,193.5 336.9,193.2 336.4,192.7 C336.0,192.3 335.6,192.0 334.8,191.4 C333.9,190.7 332.7,190.1 331.3,188.8 C329.9,187.5 327.6,185.6 326.4,183.6 C325.3,181.7 324.6,179.2 324.5,177.0 C324.4,174.8 324.9,172.4 325.9,170.5 C326.8,168.5 328.3,166.7 330.0,165.4 C331.7,164.1 333.9,163.1 336.0,162.7 C338.1,162.3 340.5,162.5 342.5,163.1 C344.5,163.7 346.7,164.9 348.2,166.4 C349.7,167.9 351.1,170.0 351.8,172.1 C352.5,174.2 352.5,177.0 352.2,179.2 C352.0,181.3 350.7,183.7 350.2,185.2 C349.6,186.8 349.1,187.5 348.8,188.3 C348.5,189.1 348.4,189.5 348.3,190.0 C348.2,190.5 348.2,190.9 348.3,191.4 Z" fill="none" stroke="#8cb2df" stroke-width="6.6" /><path d="M348.3,191.4 C348.4,191.8 348.2,192.0 349.0,192.8 C349.8,193.7 351.3,194.5 353.0,196.4 C354.7,198.3 358.0,201.9 359.0,204.5 C360.0,207.1 359.5,209.7 358.9,211.9 C358.2,214.1 356.7,216.1 355.1,217.5 C353.5,218.9 351.2,220.0 349.1,220.3 C347.0,220.7 344.5,220.5 342.5,219.7 C340.5,218.9 338.3,217.4 337.0,215.5 C335.7,213.6 334.5,210.9 334.5,208.0 C334.5,205.1 336.5,200.4 337.0,198.2 C337.5,196.1 337.6,195.9 337.7,195.2 C337.7,194.5 337.5,194.3 337.3,193.9 C337.1,193.5 336.9,193.2 336.4,192.7 C336.0,192.3 335.6,192.0 334.8,191.4 C333.9,190.7 332.7,190.1 331.3,188.8 C329.9,187.5 327.6,185.6 326.4,183.6 C325.3,181.7 324.6,179.2 324.5,177.0 C324.4,174.8 324.9,172.4 325.9,170.5 C326.8,168.5 328.3,166.7 330.0,165.4 C331.7,164.1 333.9,163.1 336.0,162.7 C338.1,162.3 340.5,162.5 342.5,163.1 C344.5,163.7 346.7,164.9 348.2,166.4 C349.7,167.9 351.1,170.0 351.8,172.1 C352.5,174.2 352.5,177.0 352.2,179.2 C352.0,181.3 350.7,183.7 350.2,185.2 C349.6,186.8 349.1,187.5 348.8,188.3 C348.5,189.1 348.4,189.5 348.3,190.0 C348.2,190.5 348.2,190.9 348.3,191.4 Z" fill="none" stroke="#f0f6fc" stroke-width="4.2" /></g>
<clipPath id="b3"><path d="M322.8,214.5 C324.1,215.5 325.6,216.9 326.5,218.5 C327.4,220.0 328.2,221.9 328.4,223.8 C328.6,225.6 328.5,227.7 327.9,229.4 C327.4,231.2 326.3,233.1 325.1,234.5 C323.8,235.9 322.1,237.1 320.4,237.9 C318.7,238.6 316.6,239.0 314.8,239.0 C312.9,239.0 310.8,238.5 309.2,237.7 C307.5,236.9 305.9,235.6 304.7,234.2 C303.5,232.8 302.6,231.0 302.0,229.3 C301.5,227.6 301.6,225.6 301.5,224.1 C301.4,222.6 301.7,221.4 301.7,220.4 C301.8,219.4 301.9,218.7 301.8,218.0 C301.8,217.3 301.7,216.8 301.6,216.2 C301.4,215.7 301.3,215.2 300.6,214.5 C300.0,213.8 299.1,213.2 297.8,211.9 C296.4,210.6 293.6,208.4 292.4,206.4 C291.3,204.5 290.9,202.1 291.0,200.1 C291.2,198.0 292.0,196.0 293.2,194.4 C294.3,192.9 296.0,191.6 297.8,190.8 C299.5,190.1 301.7,189.8 303.6,190.1 C305.5,190.4 307.6,191.2 309.2,192.7 C310.7,194.1 312.0,196.6 312.8,198.7 C313.5,200.8 313.3,203.8 313.5,205.4 C313.8,207.0 313.9,207.5 314.2,208.2 C314.5,208.9 314.8,209.2 315.3,209.6 C315.7,210.1 316.2,210.4 316.8,210.8 C317.5,211.2 318.2,211.6 319.2,212.2 C320.2,212.8 321.6,213.5 322.8,214.5 Z"/></clipPath><path d="M322.8,214.5 C324.1,215.5 325.6,216.9 326.5,218.5 C327.4,220.0 328.2,221.9 328.4,223.8 C328.6,225.6 328.5,227.7 327.9,229.4 C327.4,231.2 326.3,233.1 325.1,234.5 C323.8,235.9 322.1,237.1 320.4,237.9 C318.7,238.6 316.6,239.0 314.8,239.0 C312.9,239.0 310.8,238.5 309.2,237.7 C307.5,236.9 305.9,235.6 304.7,234.2 C303.5,232.8 302.6,231.0 302.0,229.3 C301.5,227.6 301.6,225.6 301.5,224.1 C301.4,222.6 301.7,221.4 301.7,220.4 C301.8,219.4 301.9,218.7 301.8,218.0 C301.8,217.3 301.7,216.8 301.6,216.2 C301.4,215.7 301.3,215.2 300.6,214.5 C300.0,213.8 299.1,213.2 297.8,211.9 C296.4,210.6 293.6,208.4 292.4,206.4 C291.3,204.5 290.9,202.1 291.0,200.1 C291.2,198.0 292.0,196.0 293.2,194.4 C294.3,192.9 296.0,191.6 297.8,190.8 C299.5,190.1 301.7,189.8 303.6,190.1 C305.5,190.4 307.6,191.2 309.2,192.7 C310.7,194.1 312.0,196.6 312.8,198.7 C313.5,200.8 313.3,203.8 313.5,205.4 C313.8,207.0 313.9,207.5 314.2,208.2 C314.5,208.9 314.8,209.2 315.3,209.6 C315.7,210.1 316.2,210.4 316.8,210.8 C317.5,211.2 318.2,211.6 319.2,212.2 C320.2,212.8 321.6,213.5 322.8,214.5 Z" fill="#c9484b" stroke="none" stroke-width="0" /><g transform="translate(309.5,215.1) scale(0.55) translate(-309.5,-215.1)"><path d="M322.8,214.5 C324.1,215.5 325.6,216.9 326.5,218.5 C327.4,220.0 328.2,221.9 328.4,223.8 C328.6,225.6 328.5,227.7 327.9,229.4 C327.4,231.2 326.3,233.1 325.1,234.5 C323.8,235.9 322.1,237.1 320.4,237.9 C318.7,238.6 316.6,239.0 314.8,239.0 C312.9,239.0 310.8,238.5 309.2,237.7 C307.5,236.9 305.9,235.6 304.7,234.2 C303.5,232.8 302.6,231.0 302.0,229.3 C301.5,227.6 301.6,225.6 301.5,224.1 C301.4,222.6 301.7,221.4 301.7,220.4 C301.8,219.4 301.9,218.7 301.8,218.0 C301.8,217.3 301.7,216.8 301.6,216.2 C301.4,215.7 301.3,215.2 300.6,214.5 C300.0,213.8 299.1,213.2 297.8,211.9 C296.4,210.6 293.6,208.4 292.4,206.4 C291.3,204.5 290.9,202.1 291.0,200.1 C291.2,198.0 292.0,196.0 293.2,194.4 C294.3,192.9 296.0,191.6 297.8,190.8 C299.5,190.1 301.7,189.8 303.6,190.1 C305.5,190.4 307.6,191.2 309.2,192.7 C310.7,194.1 312.0,196.6 312.8,198.7 C313.5,200.8 313.3,203.8 313.5,205.4 C313.8,207.0 313.9,207.5 314.2,208.2 C314.5,208.9 314.8,209.2 315.3,209.6 C315.7,210.1 316.2,210.4 316.8,210.8 C317.5,211.2 318.2,211.6 319.2,212.2 C320.2,212.8 321.6,213.5 322.8,214.5 Z" fill="#bb3b3f" stroke="none" stroke-width="0" /></g><g clip-path="url(#b3)"><path d="M322.8,214.5 C324.1,215.5 325.6,216.9 326.5,218.5 C327.4,220.0 328.2,221.9 328.4,223.8 C328.6,225.6 328.5,227.7 327.9,229.4 C327.4,231.2 326.3,233.1 325.1,234.5 C323.8,235.9 322.1,237.1 320.4,237.9 C318.7,238.6 316.6,239.0 314.8,239.0 C312.9,239.0 310.8,238.5 309.2,237.7 C307.5,236.9 305.9,235.6 304.7,234.2 C303.5,232.8 302.6,231.0 302.0,229.3 C301.5,227.6 301.6,225.6 301.5,224.1 C301.4,222.6 301.7,221.4 301.7,220.4 C301.8,219.4 301.9,218.7 301.8,218.0 C301.8,217.3 301.7,216.8 301.6,216.2 C301.4,215.7 301.3,215.2 300.6,214.5 C300.0,213.8 299.1,213.2 297.8,211.9 C296.4,210.6 293.6,208.4 292.4,206.4 C291.3,204.5 290.9,202.1 291.0,200.1 C291.2,198.0 292.0,196.0 293.2,194.4 C294.3,192.9 296.0,191.6 297.8,190.8 C299.5,190.1 301.7,189.8 303.6,190.1 C305.5,190.4 307.6,191.2 309.2,192.7 C310.7,194.1 312.0,196.6 312.8,198.7 C313.5,200.8 313.3,203.8 313.5,205.4 C313.8,207.0 313.9,207.5 314.2,208.2 C314.5,208.9 314.8,209.2 315.3,209.6 C315.7,210.1 316.2,210.4 316.8,210.8 C317.5,211.2 318.2,211.6 319.2,212.2 C320.2,212.8 321.6,213.5 322.8,214.5 Z" fill="none" stroke="#a53034" stroke-width="6.6" /><path d="M322.8,214.5 C324.1,215.5 325.6,216.9 326.5,218.5 C327.4,220.0 328.2,221.9 328.4,223.8 C328.6,225.6 328.5,227.7 327.9,229.4 C327.4,231.2 326.3,233.1 325.1,234.5 C323.8,235.9 322.1,237.1 320.4,237.9 C318.7,238.6 316.6,239.0 314.8,239.0 C312.9,239.0 310.8,238.5 309.2,237.7 C307.5,236.9 305.9,235.6 304.7,234.2 C303.5,232.8 302.6,231.0 302.0,229.3 C301.5,227.6 301.6,225.6 301.5,224.1 C301.4,222.6 301.7,221.4 301.7,220.4 C301.8,219.4 301.9,218.7 301.8,218.0 C301.8,217.3 301.7,216.8 301.6,216.2 C301.4,215.7 301.3,215.2 300.6,214.5 C300.0,213.8 299.1,213.2 297.8,211.9 C296.4,210.6 293.6,208.4 292.4,206.4 C291.3,204.5 290.9,202.1 291.0,200.1 C291.2,198.0 292.0,196.0 293.2,194.4 C294.3,192.9 296.0,191.6 297.8,190.8 C299.5,190.1 301.7,189.8 303.6,190.1 C305.5,190.4 307.6,191.2 309.2,192.7 C310.7,194.1 312.0,196.6 312.8,198.7 C313.5,200.8 313.3,203.8 313.5,205.4 C313.8,207.0 313.9,207.5 314.2,208.2 C314.5,208.9 314.8,209.2 315.3,209.6 C315.7,210.1 316.2,210.4 316.8,210.8 C317.5,211.2 318.2,211.6 319.2,212.2 C320.2,212.8 321.6,213.5 322.8,214.5 Z" fill="none" stroke="#ef8e86" stroke-width="4.2" /></g>
<ellipse cx="347.4" cy="241.7" rx="11.7" ry="12.3" fill="#ef8e86"/><ellipse cx="347.4" cy="241.7" rx="9.6" ry="10.200000000000001" fill="#a53034"/><ellipse cx="347.4" cy="241.7" rx="8.4" ry="9.000000000000002" fill="#c9484b"/><ellipse cx="347.4" cy="242.7" rx="5.0" ry="5.6" fill="#bb3b3f"/>
<ellipse cx="333.1" cy="229.4" rx="5.5" ry="6.5" fill="#e6f2e0"/><ellipse cx="333.1" cy="229.4" rx="4.0" ry="5.0" fill="#e6f2e0"/><ellipse cx="333.1" cy="229.4" rx="4.0" ry="5.0" fill="#a6d19b"/>
<ellipse cx="353.8" cy="225.5" rx="5.5" ry="5.5" fill="#e6f2e0"/><ellipse cx="353.8" cy="225.5" rx="4.0" ry="4.0" fill="#e6f2e0"/><ellipse cx="353.8" cy="225.5" rx="4.0" ry="4.0" fill="#a6d19b"/>
<clipPath id="lc"><path d="M775.0,61.6 C779.4,61.9 781.9,62.8 784.5,64.5 C787.1,66.2 788.5,69.0 790.4,71.7 C792.2,74.4 792.2,78.0 795.6,80.8 C799.0,83.6 805.8,84.6 811.0,88.5 C816.2,92.4 821.9,98.8 826.7,104.0 C831.5,109.2 835.0,114.5 839.7,119.7 C844.5,124.9 850.5,129.6 855.2,135.2 C860.0,140.8 864.5,147.3 868.2,153.4 C871.9,159.5 875.1,163.7 877.3,171.5 C879.5,179.3 880.1,190.2 881.3,200.0 C882.5,209.8 884.0,220.5 884.3,230.5 C884.6,240.5 883.6,251.3 883.0,260.0 C882.4,268.7 881.8,275.5 880.4,282.5 C879.0,289.5 877.3,296.4 874.7,302.0 C872.1,307.6 867.3,311.3 865.0,316.0 C862.7,320.7 861.2,325.3 860.7,330.0 C860.2,334.7 860.6,340.2 862.0,344.0 C863.4,347.8 867.1,349.3 869.0,352.6 C870.9,355.9 872.8,359.8 873.3,364.0 C873.8,368.2 873.2,375.2 872.0,378.0 C870.8,380.8 870.0,381.1 866.0,380.7 C862.0,380.3 853.6,376.8 848.0,375.5 C842.4,374.2 838.6,373.6 832.6,373.0 C826.6,372.4 819.6,371.4 811.8,371.6 C804.0,371.8 792.9,372.9 786.0,374.0 C779.1,375.1 775.7,377.3 770.4,378.0 C765.1,378.7 760.5,377.3 754.4,378.0 C748.3,378.7 740.1,380.3 733.6,382.0 C727.1,383.7 721.5,386.5 715.5,388.4 C709.5,390.3 703.9,392.3 697.4,393.6 C690.9,394.9 683.1,395.8 676.6,396.2 C670.1,396.6 662.4,397.5 658.5,396.2 C654.6,394.9 654.8,393.1 653.3,388.4 C651.8,383.6 650.5,377.6 649.4,367.7 C648.3,357.8 646.9,340.2 646.8,328.9 C646.6,317.6 648.1,311.4 648.5,300.0 C648.9,288.6 648.6,272.3 649.0,260.7 C649.4,249.1 649.8,240.6 650.6,230.5 C651.4,220.4 652.4,209.2 653.6,200.0 C654.8,190.8 656.2,181.9 658.0,175.0 C659.8,168.1 662.0,165.3 664.6,158.7 C667.2,152.0 669.8,141.6 673.7,135.1 C677.6,128.6 683.2,125.6 688.0,119.6 C692.8,113.6 697.2,105.0 702.2,98.9 C707.2,92.9 711.4,88.3 717.7,83.3 C724.0,78.3 733.3,72.4 740.0,69.0 C746.7,65.6 752.2,64.2 758.0,63.0 C763.8,61.8 770.6,61.4 775.0,61.6 Z"/></clipPath>
<path d="M775.0,61.6 C779.4,61.9 781.9,62.8 784.5,64.5 C787.1,66.2 788.5,69.0 790.4,71.7 C792.2,74.4 792.2,78.0 795.6,80.8 C799.0,83.6 805.8,84.6 811.0,88.5 C816.2,92.4 821.9,98.8 826.7,104.0 C831.5,109.2 835.0,114.5 839.7,119.7 C844.5,124.9 850.5,129.6 855.2,135.2 C860.0,140.8 864.5,147.3 868.2,153.4 C871.9,159.5 875.1,163.7 877.3,171.5 C879.5,179.3 880.1,190.2 881.3,200.0 C882.5,209.8 884.0,220.5 884.3,230.5 C884.6,240.5 883.6,251.3 883.0,260.0 C882.4,268.7 881.8,275.5 880.4,282.5 C879.0,289.5 877.3,296.4 874.7,302.0 C872.1,307.6 867.3,311.3 865.0,316.0 C862.7,320.7 861.2,325.3 860.7,330.0 C860.2,334.7 860.6,340.2 862.0,344.0 C863.4,347.8 867.1,349.3 869.0,352.6 C870.9,355.9 872.8,359.8 873.3,364.0 C873.8,368.2 873.2,375.2 872.0,378.0 C870.8,380.8 870.0,381.1 866.0,380.7 C862.0,380.3 853.6,376.8 848.0,375.5 C842.4,374.2 838.6,373.6 832.6,373.0 C826.6,372.4 819.6,371.4 811.8,371.6 C804.0,371.8 792.9,372.9 786.0,374.0 C779.1,375.1 775.7,377.3 770.4,378.0 C765.1,378.7 760.5,377.3 754.4,378.0 C748.3,378.7 740.1,380.3 733.6,382.0 C727.1,383.7 721.5,386.5 715.5,388.4 C709.5,390.3 703.9,392.3 697.4,393.6 C690.9,394.9 683.1,395.8 676.6,396.2 C670.1,396.6 662.4,397.5 658.5,396.2 C654.6,394.9 654.8,393.1 653.3,388.4 C651.8,383.6 650.5,377.6 649.4,367.7 C648.3,357.8 646.9,340.2 646.8,328.9 C646.6,317.6 648.1,311.4 648.5,300.0 C648.9,288.6 648.6,272.3 649.0,260.7 C649.4,249.1 649.8,240.6 650.6,230.5 C651.4,220.4 652.4,209.2 653.6,200.0 C654.8,190.8 656.2,181.9 658.0,175.0 C659.8,168.1 662.0,165.3 664.6,158.7 C667.2,152.0 669.8,141.6 673.7,135.1 C677.6,128.6 683.2,125.6 688.0,119.6 C692.8,113.6 697.2,105.0 702.2,98.9 C707.2,92.9 711.4,88.3 717.7,83.3 C724.0,78.3 733.3,72.4 740.0,69.0 C746.7,65.6 752.2,64.2 758.0,63.0 C763.8,61.8 770.6,61.4 775.0,61.6 Z" fill="#f5ccd7" stroke="none" stroke-width="0" />
<g clip-path="url(#lc)"><path d="M841.0,130.0 C841.4,135.9 849.8,140.0 852.6,145.6 C855.4,151.2 856.1,158.1 857.8,163.8 C859.5,169.5 862.4,171.7 863.0,180.0 C863.6,188.3 861.1,203.9 861.6,213.8 C862.1,223.7 864.5,230.2 866.0,239.5 C867.5,248.8 870.4,260.2 870.7,269.8 C871.0,279.4 870.2,288.6 867.7,297.0 C865.2,305.4 858.3,312.2 856.0,320.0 C853.7,327.8 853.6,336.2 853.7,344.0 C853.8,351.8 854.5,360.7 856.5,366.7 C858.5,372.7 858.8,377.8 866.0,380.0 C873.2,382.2 894.3,426.7 900.0,380.0 C905.7,333.3 908.3,145.0 900.0,100.0 C891.7,55.0 859.8,105.0 850.0,110.0 C840.2,115.0 840.6,124.1 841.0,130.0 Z" fill="#eebbc9" stroke="none" stroke-width="0" /><path d="M858.0,172.0 C859.3,176.7 864.2,188.7 866.0,200.0 C867.8,211.3 867.8,228.3 869.0,240.0 C870.2,251.7 872.8,260.7 873.0,270.0 C873.2,279.3 870.5,291.7 870.0,296.0" fill="none" stroke="#fbe0e6" stroke-width="3" stroke-linecap="round"/><path d="M797.0,95.0 C798.0,98.3 801.5,109.2 803.0,115.0 C804.5,120.8 805.5,127.5 806.0,130.0" fill="none" stroke="#fbe0e6" stroke-width="4" stroke-linecap="round"/><path d="M818.0,105.0 C819.0,108.3 822.3,119.2 824.0,125.0 C825.7,130.8 827.3,137.5 828.0,140.0" fill="none" stroke="#fbe0e6" stroke-width="4" stroke-linecap="round"/><path d="M760.0,85.0 C756.7,87.5 745.8,94.5 740.0,100.0 C734.2,105.5 727.5,115.0 725.0,118.0" fill="none" stroke="#fbe0e6" stroke-width="5" stroke-linecap="round"/><path d="M684.0,150.0 C683.0,158.3 679.3,181.7 678.0,200.0 C676.7,218.3 676.2,240.0 676.0,260.0 C675.8,280.0 676.3,305.0 677.0,320.0 C677.7,335.0 679.5,345.0 680.0,350.0" fill="none" stroke="#f9dbe2" stroke-width="7" stroke-linecap="round"/><path d="M700.0,130.0 C701.7,124.2 718.3,108.7 730.0,100.0 C741.7,91.3 760.8,79.7 770.0,78.0 C779.2,76.3 786.7,84.7 785.0,90.0 C783.3,95.3 770.8,102.5 760.0,110.0 C749.2,117.5 730.0,131.7 720.0,135.0 C710.0,138.3 698.3,135.8 700.0,130.0 Z" fill="#f8d6de" stroke="none" stroke-width="0" /><path d="M721.0,140.0 C721.6,131.8 722.3,133.8 727.8,131.0 C733.2,128.2 745.1,124.4 753.7,123.3 C762.3,122.2 772.2,122.9 779.6,124.6 C787.0,126.3 793.5,129.6 797.8,133.7 C802.1,137.8 803.4,142.0 805.6,149.3 C807.8,156.7 806.7,172.7 810.8,177.8 C814.9,182.9 821.5,174.0 830.0,180.0 C838.5,186.0 855.6,203.9 861.6,213.8 C867.6,223.7 864.5,230.2 866.0,239.5 C867.5,248.8 871.7,258.1 870.7,269.8 C869.7,281.6 862.8,300.0 860.0,310.0 C857.2,320.0 856.5,323.0 853.7,330.0 C850.9,337.0 855.3,351.3 843.0,352.0 C830.7,352.7 800.2,336.8 780.0,334.0 C759.8,331.2 732.3,340.7 722.0,335.0 C711.7,329.3 718.3,315.8 718.0,300.0 C717.7,284.2 719.0,260.0 720.0,240.0 C721.0,220.0 723.8,196.7 724.0,180.0 C724.2,163.3 720.4,148.2 721.0,140.0 Z" fill="#f6cfd8" stroke="none" stroke-width="0" /><path d="M732.0,152.0 C733.8,150.0 738.3,142.8 743.0,140.0 C747.7,137.2 753.5,135.5 760.0,135.0 C766.5,134.5 775.7,135.3 782.0,137.0 C788.3,138.7 794.3,141.8 798.0,145.0 C801.7,148.2 803.0,154.2 804.0,156.0" fill="none" stroke="#fae0e6" stroke-width="6" stroke-linecap="round"/><path d="M766.0,272.4 C767.8,263.7 777.7,247.9 790.0,240.0 C802.3,232.1 828.1,229.4 840.0,225.0 C851.9,220.6 857.3,211.4 861.6,213.8 C865.9,216.2 864.5,230.2 866.0,239.5 C867.5,248.8 871.7,258.1 870.7,269.8 C869.7,281.6 862.8,300.0 860.0,310.0 C857.2,320.0 856.4,322.8 853.7,330.0 C851.0,337.2 848.1,352.3 843.8,353.5 C839.4,354.7 834.1,343.2 827.6,337.3 C821.1,331.4 813.1,325.4 805.0,317.8 C796.9,310.2 785.5,299.6 779.0,292.0 C772.5,284.4 764.2,281.1 766.0,272.4 Z" fill="#f8d6de" stroke="none" stroke-width="0" /><path d="M800.0,270.0 C804.2,261.7 820.8,250.8 830.0,250.0 C839.2,249.2 851.7,255.0 855.0,265.0 C858.3,275.0 855.0,300.8 850.0,310.0 C845.0,319.2 832.5,321.7 825.0,320.0 C817.5,318.3 809.2,308.3 805.0,300.0 C800.8,291.7 795.8,278.3 800.0,270.0 Z" fill="#fadde4" stroke="none" stroke-width="0" /><path d="M718.0,150.0 C716.0,155.3 708.9,171.2 706.0,182.0 C703.1,192.8 701.8,203.7 700.5,215.0 C699.2,226.3 698.2,236.5 698.0,250.0 C697.8,263.5 698.6,282.2 699.5,296.0 C700.4,309.8 702.1,323.7 703.5,333.0 C704.9,342.3 707.2,348.8 708.0,352.0" fill="none" stroke="#e7abbd" stroke-width="8" /><path d="M727.0,152.0 C724.9,157.3 717.5,173.3 714.5,184.0 C711.5,194.7 710.2,205.0 709.0,216.0 C707.8,227.0 707.1,236.7 707.0,250.0 C706.9,263.3 707.7,282.2 708.5,296.0 C709.3,309.8 710.8,323.7 712.0,333.0 C713.2,342.3 715.3,348.8 716.0,352.0" fill="none" stroke="#fce4ea" stroke-width="7" /><path d="M742.0,257.0 C742.7,260.8 744.8,272.0 746.0,280.0 C747.2,288.0 748.2,297.5 749.0,305.0 C749.8,312.5 750.7,321.7 751.0,325.0" fill="none" stroke="#fde9ee" stroke-width="4" stroke-linecap="round"/><path d="M654.6,385.8 C659.4,379.6 662.2,377.0 668.9,372.9 C675.6,368.8 688.3,364.5 694.8,361.0 C701.3,357.5 702.1,355.4 707.7,352.0 C713.3,348.6 721.5,343.3 728.4,340.5 C735.3,337.7 740.4,336.4 749.0,335.3 C757.6,334.2 769.5,333.1 780.0,334.0 C790.5,334.9 802.6,338.6 811.8,340.5 C821.0,342.4 827.6,343.9 835.0,345.7 C842.4,347.4 849.3,348.6 856.0,351.0 C862.7,353.4 871.0,351.8 875.0,360.0 C879.0,368.2 919.2,391.7 880.0,400.0 C840.8,408.3 677.6,412.4 640.0,410.0 C602.4,407.6 649.8,392.0 654.6,385.8 Z" fill="#eab3c3" stroke="none" stroke-width="0" /><path d="M700.0,380.0 C698.3,378.0 716.7,365.0 730.0,360.0 C743.3,355.0 763.3,350.7 780.0,350.0 C796.7,349.3 826.7,353.3 830.0,356.0 C833.3,358.7 815.0,363.3 800.0,366.0 C785.0,368.7 756.7,369.7 740.0,372.0 C723.3,374.3 701.7,382.0 700.0,380.0 Z" fill="#f0c0cd" stroke="none" stroke-width="0" /><path d="M654.6,385.8 C654.4,382.6 662.2,377.0 668.9,372.9 C675.6,368.8 688.3,364.5 694.8,361.0 C701.3,357.5 708.5,349.7 707.7,352.0 C706.9,354.3 696.3,368.3 690.0,375.0 C683.7,381.7 675.9,390.2 670.0,392.0 C664.1,393.8 654.8,389.0 654.6,385.8 Z" fill="#e3a5b8" stroke="none" stroke-width="0" /></g>
<path d="M687.0,120.3 C689.0,120.9 695.0,122.5 699.0,123.9 C703.0,125.3 707.1,126.4 710.9,128.6 C714.7,130.8 718.8,133.4 721.6,137.0 C724.4,140.6 725.3,146.2 727.5,150.0 C729.7,153.8 733.4,157.9 734.6,159.5" fill="none" stroke="#d27d95" stroke-width="1.3" stroke-linecap="round"/>
<path d="M721.0,140.0 C722.1,138.5 722.3,133.8 727.8,131.0 C733.2,128.2 745.1,124.4 753.7,123.3 C762.3,122.2 772.2,122.9 779.6,124.6 C787.0,126.3 793.5,129.6 797.8,133.7 C802.1,137.8 803.9,144.9 805.6,149.3 C807.3,153.7 807.6,158.2 808.0,160.0" fill="none" stroke="#d27d95" stroke-width="1.3" stroke-linecap="round"/>
<path d="M790.5,75.0 C790.1,79.6 789.8,94.8 788.0,102.5 C786.2,110.2 781.2,118.3 779.8,121.5" fill="none" stroke="#d27d95" stroke-width="1.3" stroke-linecap="round"/>
<path d="M806.0,93.7 C806.3,97.2 807.6,107.7 808.0,115.0 C808.4,122.3 808.4,134.0 808.5,137.8" fill="none" stroke="#d27d95" stroke-width="1.3" stroke-linecap="round"/>
<path d="M805.6,188.2 C809.3,190.2 820.6,195.7 828.0,200.0 C835.4,204.3 844.1,210.3 849.7,214.0 C855.3,217.7 859.6,220.7 861.6,222.0" fill="none" stroke="#d27d95" stroke-width="1.3" stroke-linecap="round"/>
<path d="M841.0,130.0 C842.9,132.6 849.8,140.0 852.6,145.6 C855.4,151.2 856.1,158.1 857.8,163.8 C859.5,169.5 862.1,172.0 863.0,180.0 C863.9,188.0 862.5,202.1 863.0,212.0 C863.5,221.9 864.7,229.9 866.0,239.5 C867.3,249.1 870.4,260.2 870.7,269.8 C871.0,279.4 869.4,291.1 867.7,297.0 C866.0,302.9 863.0,300.4 860.7,305.0 C858.4,309.6 854.9,318.1 853.7,324.6 C852.5,331.1 853.2,337.0 853.7,344.0 C854.2,351.0 854.9,361.5 856.5,366.7 C858.1,371.9 862.3,373.6 863.5,375.0" fill="none" stroke="#d27d95" stroke-width="1.3" stroke-linecap="round"/>
<path d="M714.0,150.0 C711.9,155.3 704.5,171.2 701.5,182.0 C698.5,192.8 697.3,203.7 696.0,215.0 C694.7,226.3 693.7,236.5 693.5,250.0 C693.3,263.5 694.0,282.2 695.0,296.0 C696.0,309.8 697.9,323.4 699.3,332.7 C700.7,342.0 702.8,348.8 703.5,352.0" fill="none" stroke="#d27d95" stroke-width="1.3" stroke-linecap="round"/>
<path d="M730.0,165.0 C729.0,170.8 725.6,187.5 724.0,200.0 C722.4,212.5 721.2,224.0 720.4,240.0 C719.6,256.0 719.0,280.6 719.0,296.0 C719.0,311.4 719.7,324.2 720.4,332.7 C721.1,341.1 722.6,344.4 723.0,346.7" fill="none" stroke="#d27d95" stroke-width="1.3" stroke-linecap="round"/>
<path d="M753.0,240.0 C754.1,242.2 757.3,247.6 759.5,253.0 C761.7,258.4 762.8,265.9 766.0,272.4 C769.2,278.9 772.5,284.4 779.0,292.0 C785.5,299.6 796.9,310.2 805.0,317.8 C813.1,325.4 821.1,331.4 827.6,337.3 C834.1,343.2 840.6,347.4 843.8,353.5 C847.0,359.6 846.5,370.6 847.0,374.0" fill="none" stroke="#d27d95" stroke-width="1.3" stroke-linecap="round"/>
<path d="M654.6,385.8 C657.0,383.6 662.2,377.0 668.9,372.9 C675.6,368.8 688.3,364.5 694.8,361.0 C701.3,357.5 702.1,355.4 707.7,352.0 C713.3,348.6 721.5,343.3 728.4,340.5 C735.3,337.7 740.4,336.4 749.0,335.3 C757.6,334.2 769.5,333.1 780.0,334.0 C790.5,334.9 802.6,338.6 811.8,340.5 C821.0,342.4 827.5,344.1 835.0,345.7 C842.5,347.3 852.9,349.3 856.5,350.0" fill="none" stroke="#d27d95" stroke-width="1.3" stroke-linecap="round"/>
<path d="M775.0,61.6 C779.4,61.9 781.9,62.8 784.5,64.5 C787.1,66.2 788.5,69.0 790.4,71.7 C792.2,74.4 792.2,78.0 795.6,80.8 C799.0,83.6 805.8,84.6 811.0,88.5 C816.2,92.4 821.9,98.8 826.7,104.0 C831.5,109.2 835.0,114.5 839.7,119.7 C844.5,124.9 850.5,129.6 855.2,135.2 C860.0,140.8 864.5,147.3 868.2,153.4 C871.9,159.5 875.1,163.7 877.3,171.5 C879.5,179.3 880.1,190.2 881.3,200.0 C882.5,209.8 884.0,220.5 884.3,230.5 C884.6,240.5 883.6,251.3 883.0,260.0 C882.4,268.7 881.8,275.5 880.4,282.5 C879.0,289.5 877.3,296.4 874.7,302.0 C872.1,307.6 867.3,311.3 865.0,316.0 C862.7,320.7 861.2,325.3 860.7,330.0 C860.2,334.7 860.6,340.2 862.0,344.0 C863.4,347.8 867.1,349.3 869.0,352.6 C870.9,355.9 872.8,359.8 873.3,364.0 C873.8,368.2 873.2,375.2 872.0,378.0 C870.8,380.8 870.0,381.1 866.0,380.7 C862.0,380.3 853.6,376.8 848.0,375.5 C842.4,374.2 838.6,373.6 832.6,373.0 C826.6,372.4 819.6,371.4 811.8,371.6 C804.0,371.8 792.9,372.9 786.0,374.0 C779.1,375.1 775.7,377.3 770.4,378.0 C765.1,378.7 760.5,377.3 754.4,378.0 C748.3,378.7 740.1,380.3 733.6,382.0 C727.1,383.7 721.5,386.5 715.5,388.4 C709.5,390.3 703.9,392.3 697.4,393.6 C690.9,394.9 683.1,395.8 676.6,396.2 C670.1,396.6 662.4,397.5 658.5,396.2 C654.6,394.9 654.8,393.1 653.3,388.4 C651.8,383.6 650.5,377.6 649.4,367.7 C648.3,357.8 646.9,340.2 646.8,328.9 C646.6,317.6 648.1,311.4 648.5,300.0 C648.9,288.6 648.6,272.3 649.0,260.7 C649.4,249.1 649.8,240.6 650.6,230.5 C651.4,220.4 652.4,209.2 653.6,200.0 C654.8,190.8 656.2,181.9 658.0,175.0 C659.8,168.1 662.0,165.3 664.6,158.7 C667.2,152.0 669.8,141.6 673.7,135.1 C677.6,128.6 683.2,125.6 688.0,119.6 C692.8,113.6 697.2,105.0 702.2,98.9 C707.2,92.9 711.4,88.3 717.7,83.3 C724.0,78.3 733.3,72.4 740.0,69.0 C746.7,65.6 752.2,64.2 758.0,63.0 C763.8,61.8 770.6,61.4 775.0,61.6 Z" fill="none" stroke="#cd6a86" stroke-width="2" />
<path d="M735.3,163.0 C737.1,159.2 738.6,154.2 742.0,152.0 C745.4,149.8 750.5,149.5 755.5,149.5 C760.5,149.5 768.4,149.5 771.8,152.0 C775.2,154.5 773.3,161.8 775.8,164.3 C778.3,166.8 783.9,163.9 786.6,167.0 C789.3,170.1 791.3,177.2 792.0,183.0 C792.7,188.8 792.3,196.3 790.7,202.0 C789.1,207.7 787.1,213.8 782.6,217.0 C778.1,220.2 768.6,218.5 763.6,221.0 C758.6,223.5 755.5,227.5 752.8,232.0 C750.1,236.5 749.2,243.2 747.4,248.0 C745.6,252.8 744.0,261.0 742.0,261.0 C740.0,261.0 737.5,253.3 735.3,248.0 C733.0,242.7 730.1,235.3 728.5,229.0 C726.9,222.7 726.0,216.3 725.8,210.0 C725.6,203.7 726.3,196.8 727.2,191.0 C728.1,185.2 729.9,179.7 731.2,175.0 C732.6,170.3 733.5,166.8 735.3,163.0 Z" fill="#d9a395" stroke="#fbe6ea" stroke-width="5" />
<clipPath id="b4"><path d="M774.5,161.5 C774.5,162.8 774.2,164.3 773.7,165.5 C773.2,166.8 772.4,168.0 771.5,168.9 C770.6,169.9 769.4,170.7 768.4,171.3 C767.3,172.0 766.1,172.4 764.9,172.7 C763.8,173.0 762.7,173.2 761.7,173.3 C760.7,173.5 759.7,173.5 758.8,173.5 C757.8,173.6 756.9,173.6 756.0,173.6 C755.1,173.6 754.2,173.6 753.2,173.5 C752.3,173.5 751.3,173.5 750.3,173.3 C749.3,173.2 748.2,173.0 747.1,172.7 C745.9,172.4 744.7,172.0 743.6,171.3 C742.6,170.7 741.4,169.9 740.5,168.9 C739.6,168.0 738.8,166.8 738.3,165.5 C737.8,164.3 737.5,162.8 737.5,161.5 C737.5,160.2 737.8,158.7 738.3,157.5 C738.8,156.2 739.6,155.0 740.5,154.1 C741.4,153.1 742.6,152.3 743.6,151.7 C744.7,151.0 745.9,150.6 747.1,150.3 C748.2,150.0 749.3,149.8 750.3,149.7 C751.3,149.5 752.3,149.5 753.2,149.5 C754.2,149.4 755.1,149.4 756.0,149.4 C756.9,149.4 757.8,149.4 758.8,149.5 C759.7,149.5 760.7,149.5 761.7,149.7 C762.7,149.8 763.8,150.0 764.9,150.3 C766.1,150.6 767.3,151.0 768.4,151.7 C769.4,152.3 770.6,153.1 771.5,154.1 C772.4,155.0 773.2,156.2 773.7,157.5 C774.2,158.7 774.5,160.2 774.5,161.5 Z"/></clipPath><path d="M774.5,161.5 C774.5,162.8 774.2,164.3 773.7,165.5 C773.2,166.8 772.4,168.0 771.5,168.9 C770.6,169.9 769.4,170.7 768.4,171.3 C767.3,172.0 766.1,172.4 764.9,172.7 C763.8,173.0 762.7,173.2 761.7,173.3 C760.7,173.5 759.7,173.5 758.8,173.5 C757.8,173.6 756.9,173.6 756.0,173.6 C755.1,173.6 754.2,173.6 753.2,173.5 C752.3,173.5 751.3,173.5 750.3,173.3 C749.3,173.2 748.2,173.0 747.1,172.7 C745.9,172.4 744.7,172.0 743.6,171.3 C742.6,170.7 741.4,169.9 740.5,168.9 C739.6,168.0 738.8,166.8 738.3,165.5 C737.8,164.3 737.5,162.8 737.5,161.5 C737.5,160.2 737.8,158.7 738.3,157.5 C738.8,156.2 739.6,155.0 740.5,154.1 C741.4,153.1 742.6,152.3 743.6,151.7 C744.7,151.0 745.9,150.6 747.1,150.3 C748.2,150.0 749.3,149.8 750.3,149.7 C751.3,149.5 752.3,149.5 753.2,149.5 C754.2,149.4 755.1,149.4 756.0,149.4 C756.9,149.4 757.8,149.4 758.8,149.5 C759.7,149.5 760.7,149.5 761.7,149.7 C762.7,149.8 763.8,150.0 764.9,150.3 C766.1,150.6 767.3,151.0 768.4,151.7 C769.4,152.3 770.6,153.1 771.5,154.1 C772.4,155.0 773.2,156.2 773.7,157.5 C774.2,158.7 774.5,160.2 774.5,161.5 Z" fill="#5d65bc" stroke="none" stroke-width="0" /><g transform="translate(756.0,161.5) scale(0.55) translate(-756.0,-161.5)"><path d="M774.5,161.5 C774.5,162.8 774.2,164.3 773.7,165.5 C773.2,166.8 772.4,168.0 771.5,168.9 C770.6,169.9 769.4,170.7 768.4,171.3 C767.3,172.0 766.1,172.4 764.9,172.7 C763.8,173.0 762.7,173.2 761.7,173.3 C760.7,173.5 759.7,173.5 758.8,173.5 C757.8,173.6 756.9,173.6 756.0,173.6 C755.1,173.6 754.2,173.6 753.2,173.5 C752.3,173.5 751.3,173.5 750.3,173.3 C749.3,173.2 748.2,173.0 747.1,172.7 C745.9,172.4 744.7,172.0 743.6,171.3 C742.6,170.7 741.4,169.9 740.5,168.9 C739.6,168.0 738.8,166.8 738.3,165.5 C737.8,164.3 737.5,162.8 737.5,161.5 C737.5,160.2 737.8,158.7 738.3,157.5 C738.8,156.2 739.6,155.0 740.5,154.1 C741.4,153.1 742.6,152.3 743.6,151.7 C744.7,151.0 745.9,150.6 747.1,150.3 C748.2,150.0 749.3,149.8 750.3,149.7 C751.3,149.5 752.3,149.5 753.2,149.5 C754.2,149.4 755.1,149.4 756.0,149.4 C756.9,149.4 757.8,149.4 758.8,149.5 C759.7,149.5 760.7,149.5 761.7,149.7 C762.7,149.8 763.8,150.0 764.9,150.3 C766.1,150.6 767.3,151.0 768.4,151.7 C769.4,152.3 770.6,153.1 771.5,154.1 C772.4,155.0 773.2,156.2 773.7,157.5 C774.2,158.7 774.5,160.2 774.5,161.5 Z" fill="#6a72c6" stroke="none" stroke-width="0" /></g><g clip-path="url(#b4)"><path d="M774.5,161.5 C774.5,162.8 774.2,164.3 773.7,165.5 C773.2,166.8 772.4,168.0 771.5,168.9 C770.6,169.9 769.4,170.7 768.4,171.3 C767.3,172.0 766.1,172.4 764.9,172.7 C763.8,173.0 762.7,173.2 761.7,173.3 C760.7,173.5 759.7,173.5 758.8,173.5 C757.8,173.6 756.9,173.6 756.0,173.6 C755.1,173.6 754.2,173.6 753.2,173.5 C752.3,173.5 751.3,173.5 750.3,173.3 C749.3,173.2 748.2,173.0 747.1,172.7 C745.9,172.4 744.7,172.0 743.6,171.3 C742.6,170.7 741.4,169.9 740.5,168.9 C739.6,168.0 738.8,166.8 738.3,165.5 C737.8,164.3 737.5,162.8 737.5,161.5 C737.5,160.2 737.8,158.7 738.3,157.5 C738.8,156.2 739.6,155.0 740.5,154.1 C741.4,153.1 742.6,152.3 743.6,151.7 C744.7,151.0 745.9,150.6 747.1,150.3 C748.2,150.0 749.3,149.8 750.3,149.7 C751.3,149.5 752.3,149.5 753.2,149.5 C754.2,149.4 755.1,149.4 756.0,149.4 C756.9,149.4 757.8,149.4 758.8,149.5 C759.7,149.5 760.7,149.5 761.7,149.7 C762.7,149.8 763.8,150.0 764.9,150.3 C766.1,150.6 767.3,151.0 768.4,151.7 C769.4,152.3 770.6,153.1 771.5,154.1 C772.4,155.0 773.2,156.2 773.7,157.5 C774.2,158.7 774.5,160.2 774.5,161.5 Z" fill="none" stroke="#474ea7" stroke-width="5.8" /><path d="M774.5,161.5 C774.5,162.8 774.2,164.3 773.7,165.5 C773.2,166.8 772.4,168.0 771.5,168.9 C770.6,169.9 769.4,170.7 768.4,171.3 C767.3,172.0 766.1,172.4 764.9,172.7 C763.8,173.0 762.7,173.2 761.7,173.3 C760.7,173.5 759.7,173.5 758.8,173.5 C757.8,173.6 756.9,173.6 756.0,173.6 C755.1,173.6 754.2,173.6 753.2,173.5 C752.3,173.5 751.3,173.5 750.3,173.3 C749.3,173.2 748.2,173.0 747.1,172.7 C745.9,172.4 744.7,172.0 743.6,171.3 C742.6,170.7 741.4,169.9 740.5,168.9 C739.6,168.0 738.8,166.8 738.3,165.5 C737.8,164.3 737.5,162.8 737.5,161.5 C737.5,160.2 737.8,158.7 738.3,157.5 C738.8,156.2 739.6,155.0 740.5,154.1 C741.4,153.1 742.6,152.3 743.6,151.7 C744.7,151.0 745.9,150.6 747.1,150.3 C748.2,150.0 749.3,149.8 750.3,149.7 C751.3,149.5 752.3,149.5 753.2,149.5 C754.2,149.4 755.1,149.4 756.0,149.4 C756.9,149.4 757.8,149.4 758.8,149.5 C759.7,149.5 760.7,149.5 761.7,149.7 C762.7,149.8 763.8,150.0 764.9,150.3 C766.1,150.6 767.3,151.0 768.4,151.7 C769.4,152.3 770.6,153.1 771.5,154.1 C772.4,155.0 773.2,156.2 773.7,157.5 C774.2,158.7 774.5,160.2 774.5,161.5 Z" fill="none" stroke="#989ce0" stroke-width="3.4" /></g>
<clipPath id="b5"><path d="M763.1,192.3 C762.3,193.6 761.2,194.7 760.2,195.7 C759.3,196.6 758.3,197.3 757.5,198.0 C756.6,198.7 755.9,199.3 755.1,199.9 C754.4,200.5 753.8,201.1 753.2,201.8 C752.5,202.4 751.9,203.1 751.2,203.9 C750.5,204.7 749.8,205.6 748.9,206.5 C748.0,207.4 746.9,208.5 745.6,209.3 C744.4,210.2 742.8,211.1 741.3,211.6 C739.7,212.0 737.9,212.1 736.2,211.9 C734.6,211.6 732.9,211.0 731.5,210.1 C730.1,209.2 728.8,207.9 727.9,206.5 C727.0,205.1 726.4,203.4 726.1,201.8 C725.9,200.1 726.0,198.3 726.5,196.7 C726.9,195.2 727.8,193.6 728.7,192.3 C729.5,191.1 730.6,190.0 731.5,189.1 C732.4,188.2 733.3,187.5 734.1,186.8 C734.9,186.1 735.6,185.5 736.2,184.8 C736.9,184.2 737.5,183.6 738.1,182.8 C738.7,182.1 739.3,181.4 740.0,180.6 C740.7,179.7 741.4,178.7 742.3,177.8 C743.3,176.8 744.4,175.7 745.6,174.9 C746.9,174.1 748.5,173.2 750.1,172.8 C751.7,172.5 753.5,172.4 755.1,172.7 C756.7,173.0 758.5,173.6 759.9,174.5 C761.2,175.5 762.5,176.8 763.5,178.2 C764.4,179.5 765.0,181.3 765.3,182.9 C765.6,184.5 765.5,186.3 765.2,187.9 C764.8,189.5 763.9,191.1 763.1,192.3 Z"/></clipPath><path d="M763.1,192.3 C762.3,193.6 761.2,194.7 760.2,195.7 C759.3,196.6 758.3,197.3 757.5,198.0 C756.6,198.7 755.9,199.3 755.1,199.9 C754.4,200.5 753.8,201.1 753.2,201.8 C752.5,202.4 751.9,203.1 751.2,203.9 C750.5,204.7 749.8,205.6 748.9,206.5 C748.0,207.4 746.9,208.5 745.6,209.3 C744.4,210.2 742.8,211.1 741.3,211.6 C739.7,212.0 737.9,212.1 736.2,211.9 C734.6,211.6 732.9,211.0 731.5,210.1 C730.1,209.2 728.8,207.9 727.9,206.5 C727.0,205.1 726.4,203.4 726.1,201.8 C725.9,200.1 726.0,198.3 726.5,196.7 C726.9,195.2 727.8,193.6 728.7,192.3 C729.5,191.1 730.6,190.0 731.5,189.1 C732.4,188.2 733.3,187.5 734.1,186.8 C734.9,186.1 735.6,185.5 736.2,184.8 C736.9,184.2 737.5,183.6 738.1,182.8 C738.7,182.1 739.3,181.4 740.0,180.6 C740.7,179.7 741.4,178.7 742.3,177.8 C743.3,176.8 744.4,175.7 745.6,174.9 C746.9,174.1 748.5,173.2 750.1,172.8 C751.7,172.5 753.5,172.4 755.1,172.7 C756.7,173.0 758.5,173.6 759.9,174.5 C761.2,175.5 762.5,176.8 763.5,178.2 C764.4,179.5 765.0,181.3 765.3,182.9 C765.6,184.5 765.5,186.3 765.2,187.9 C764.8,189.5 763.9,191.1 763.1,192.3 Z" fill="#b4cdea" stroke="none" stroke-width="0" /><g transform="translate(745.7,192.3) scale(0.55) translate(-745.7,-192.3)"><path d="M763.1,192.3 C762.3,193.6 761.2,194.7 760.2,195.7 C759.3,196.6 758.3,197.3 757.5,198.0 C756.6,198.7 755.9,199.3 755.1,199.9 C754.4,200.5 753.8,201.1 753.2,201.8 C752.5,202.4 751.9,203.1 751.2,203.9 C750.5,204.7 749.8,205.6 748.9,206.5 C748.0,207.4 746.9,208.5 745.6,209.3 C744.4,210.2 742.8,211.1 741.3,211.6 C739.7,212.0 737.9,212.1 736.2,211.9 C734.6,211.6 732.9,211.0 731.5,210.1 C730.1,209.2 728.8,207.9 727.9,206.5 C727.0,205.1 726.4,203.4 726.1,201.8 C725.9,200.1 726.0,198.3 726.5,196.7 C726.9,195.2 727.8,193.6 728.7,192.3 C729.5,191.1 730.6,190.0 731.5,189.1 C732.4,188.2 733.3,187.5 734.1,186.8 C734.9,186.1 735.6,185.5 736.2,184.8 C736.9,184.2 737.5,183.6 738.1,182.8 C738.7,182.1 739.3,181.4 740.0,180.6 C740.7,179.7 741.4,178.7 742.3,177.8 C743.3,176.8 744.4,175.7 745.6,174.9 C746.9,174.1 748.5,173.2 750.1,172.8 C751.7,172.5 753.5,172.4 755.1,172.7 C756.7,173.0 758.5,173.6 759.9,174.5 C761.2,175.5 762.5,176.8 763.5,178.2 C764.4,179.5 765.0,181.3 765.3,182.9 C765.6,184.5 765.5,186.3 765.2,187.9 C764.8,189.5 763.9,191.1 763.1,192.3 Z" fill="#c9dcf1" stroke="none" stroke-width="0" /></g><g clip-path="url(#b5)"><path d="M763.1,192.3 C762.3,193.6 761.2,194.7 760.2,195.7 C759.3,196.6 758.3,197.3 757.5,198.0 C756.6,198.7 755.9,199.3 755.1,199.9 C754.4,200.5 753.8,201.1 753.2,201.8 C752.5,202.4 751.9,203.1 751.2,203.9 C750.5,204.7 749.8,205.6 748.9,206.5 C748.0,207.4 746.9,208.5 745.6,209.3 C744.4,210.2 742.8,211.1 741.3,211.6 C739.7,212.0 737.9,212.1 736.2,211.9 C734.6,211.6 732.9,211.0 731.5,210.1 C730.1,209.2 728.8,207.9 727.9,206.5 C727.0,205.1 726.4,203.4 726.1,201.8 C725.9,200.1 726.0,198.3 726.5,196.7 C726.9,195.2 727.8,193.6 728.7,192.3 C729.5,191.1 730.6,190.0 731.5,189.1 C732.4,188.2 733.3,187.5 734.1,186.8 C734.9,186.1 735.6,185.5 736.2,184.8 C736.9,184.2 737.5,183.6 738.1,182.8 C738.7,182.1 739.3,181.4 740.0,180.6 C740.7,179.7 741.4,178.7 742.3,177.8 C743.3,176.8 744.4,175.7 745.6,174.9 C746.9,174.1 748.5,173.2 750.1,172.8 C751.7,172.5 753.5,172.4 755.1,172.7 C756.7,173.0 758.5,173.6 759.9,174.5 C761.2,175.5 762.5,176.8 763.5,178.2 C764.4,179.5 765.0,181.3 765.3,182.9 C765.6,184.5 765.5,186.3 765.2,187.9 C764.8,189.5 763.9,191.1 763.1,192.3 Z" fill="none" stroke="#8cb2df" stroke-width="6.6" /><path d="M763.1,192.3 C762.3,193.6 761.2,194.7 760.2,195.7 C759.3,196.6 758.3,197.3 757.5,198.0 C756.6,198.7 755.9,199.3 755.1,199.9 C754.4,200.5 753.8,201.1 753.2,201.8 C752.5,202.4 751.9,203.1 751.2,203.9 C750.5,204.7 749.8,205.6 748.9,206.5 C748.0,207.4 746.9,208.5 745.6,209.3 C744.4,210.2 742.8,211.1 741.3,211.6 C739.7,212.0 737.9,212.1 736.2,211.9 C734.6,211.6 732.9,211.0 731.5,210.1 C730.1,209.2 728.8,207.9 727.9,206.5 C727.0,205.1 726.4,203.4 726.1,201.8 C725.9,200.1 726.0,198.3 726.5,196.7 C726.9,195.2 727.8,193.6 728.7,192.3 C729.5,191.1 730.6,190.0 731.5,189.1 C732.4,188.2 733.3,187.5 734.1,186.8 C734.9,186.1 735.6,185.5 736.2,184.8 C736.9,184.2 737.5,183.6 738.1,182.8 C738.7,182.1 739.3,181.4 740.0,180.6 C740.7,179.7 741.4,178.7 742.3,177.8 C743.3,176.8 744.4,175.7 745.6,174.9 C746.9,174.1 748.5,173.2 750.1,172.8 C751.7,172.5 753.5,172.4 755.1,172.7 C756.7,173.0 758.5,173.6 759.9,174.5 C761.2,175.5 762.5,176.8 763.5,178.2 C764.4,179.5 765.0,181.3 765.3,182.9 C765.6,184.5 765.5,186.3 765.2,187.9 C764.8,189.5 763.9,191.1 763.1,192.3 Z" fill="none" stroke="#f0f6fc" stroke-width="4.2" /></g>
<clipPath id="b6"><path d="M785.9,193.5 C785.0,194.6 784.5,195.2 784.0,196.0 C783.5,196.8 783.2,197.5 782.9,198.2 C782.5,199.0 782.3,199.7 782.0,200.6 C781.7,201.5 781.5,202.5 781.2,203.7 C780.9,204.8 780.6,206.2 780.0,207.7 C779.4,209.2 778.6,211.1 777.5,212.7 C776.4,214.2 774.8,215.9 773.1,217.0 C771.4,218.0 769.3,218.7 767.3,218.9 C765.4,219.1 763.1,218.8 761.3,218.2 C759.4,217.5 757.6,216.2 756.2,214.8 C754.8,213.3 753.7,211.4 753.1,209.5 C752.5,207.6 752.4,205.4 752.7,203.4 C753.0,201.4 753.9,199.4 754.8,197.7 C755.7,196.1 757.1,194.7 758.1,193.5 C759.1,192.4 760.1,191.6 760.9,190.8 C761.8,190.0 762.5,189.4 763.1,188.7 C763.7,188.0 764.2,187.5 764.7,186.8 C765.2,186.1 765.6,185.5 766.0,184.7 C766.5,183.8 766.8,182.9 767.4,181.6 C767.9,180.3 768.4,178.5 769.3,176.8 C770.3,175.2 771.5,172.9 773.1,171.5 C774.7,170.1 776.9,168.8 778.9,168.3 C780.9,167.8 783.2,168.0 785.1,168.6 C787.0,169.2 789.0,170.5 790.3,172.1 C791.5,173.6 792.6,175.7 792.9,177.8 C793.2,179.9 792.8,182.4 792.1,184.4 C791.4,186.4 789.9,188.4 788.9,189.9 C787.8,191.5 786.7,192.5 785.9,193.5 Z"/></clipPath><path d="M785.9,193.5 C785.0,194.6 784.5,195.2 784.0,196.0 C783.5,196.8 783.2,197.5 782.9,198.2 C782.5,199.0 782.3,199.7 782.0,200.6 C781.7,201.5 781.5,202.5 781.2,203.7 C780.9,204.8 780.6,206.2 780.0,207.7 C779.4,209.2 778.6,211.1 777.5,212.7 C776.4,214.2 774.8,215.9 773.1,217.0 C771.4,218.0 769.3,218.7 767.3,218.9 C765.4,219.1 763.1,218.8 761.3,218.2 C759.4,217.5 757.6,216.2 756.2,214.8 C754.8,213.3 753.7,211.4 753.1,209.5 C752.5,207.6 752.4,205.4 752.7,203.4 C753.0,201.4 753.9,199.4 754.8,197.7 C755.7,196.1 757.1,194.7 758.1,193.5 C759.1,192.4 760.1,191.6 760.9,190.8 C761.8,190.0 762.5,189.4 763.1,188.7 C763.7,188.0 764.2,187.5 764.7,186.8 C765.2,186.1 765.6,185.5 766.0,184.7 C766.5,183.8 766.8,182.9 767.4,181.6 C767.9,180.3 768.4,178.5 769.3,176.8 C770.3,175.2 771.5,172.9 773.1,171.5 C774.7,170.1 776.9,168.8 778.9,168.3 C780.9,167.8 783.2,168.0 785.1,168.6 C787.0,169.2 789.0,170.5 790.3,172.1 C791.5,173.6 792.6,175.7 792.9,177.8 C793.2,179.9 792.8,182.4 792.1,184.4 C791.4,186.4 789.9,188.4 788.9,189.9 C787.8,191.5 786.7,192.5 785.9,193.5 Z" fill="#c9484b" stroke="none" stroke-width="0" /><g transform="translate(773.0,193.8) scale(0.55) translate(-773.0,-193.8)"><path d="M785.9,193.5 C785.0,194.6 784.5,195.2 784.0,196.0 C783.5,196.8 783.2,197.5 782.9,198.2 C782.5,199.0 782.3,199.7 782.0,200.6 C781.7,201.5 781.5,202.5 781.2,203.7 C780.9,204.8 780.6,206.2 780.0,207.7 C779.4,209.2 778.6,211.1 777.5,212.7 C776.4,214.2 774.8,215.9 773.1,217.0 C771.4,218.0 769.3,218.7 767.3,218.9 C765.4,219.1 763.1,218.8 761.3,218.2 C759.4,217.5 757.6,216.2 756.2,214.8 C754.8,213.3 753.7,211.4 753.1,209.5 C752.5,207.6 752.4,205.4 752.7,203.4 C753.0,201.4 753.9,199.4 754.8,197.7 C755.7,196.1 757.1,194.7 758.1,193.5 C759.1,192.4 760.1,191.6 760.9,190.8 C761.8,190.0 762.5,189.4 763.1,188.7 C763.7,188.0 764.2,187.5 764.7,186.8 C765.2,186.1 765.6,185.5 766.0,184.7 C766.5,183.8 766.8,182.9 767.4,181.6 C767.9,180.3 768.4,178.5 769.3,176.8 C770.3,175.2 771.5,172.9 773.1,171.5 C774.7,170.1 776.9,168.8 778.9,168.3 C780.9,167.8 783.2,168.0 785.1,168.6 C787.0,169.2 789.0,170.5 790.3,172.1 C791.5,173.6 792.6,175.7 792.9,177.8 C793.2,179.9 792.8,182.4 792.1,184.4 C791.4,186.4 789.9,188.4 788.9,189.9 C787.8,191.5 786.7,192.5 785.9,193.5 Z" fill="#bb3b3f" stroke="none" stroke-width="0" /></g><g clip-path="url(#b6)"><path d="M785.9,193.5 C785.0,194.6 784.5,195.2 784.0,196.0 C783.5,196.8 783.2,197.5 782.9,198.2 C782.5,199.0 782.3,199.7 782.0,200.6 C781.7,201.5 781.5,202.5 781.2,203.7 C780.9,204.8 780.6,206.2 780.0,207.7 C779.4,209.2 778.6,211.1 777.5,212.7 C776.4,214.2 774.8,215.9 773.1,217.0 C771.4,218.0 769.3,218.7 767.3,218.9 C765.4,219.1 763.1,218.8 761.3,218.2 C759.4,217.5 757.6,216.2 756.2,214.8 C754.8,213.3 753.7,211.4 753.1,209.5 C752.5,207.6 752.4,205.4 752.7,203.4 C753.0,201.4 753.9,199.4 754.8,197.7 C755.7,196.1 757.1,194.7 758.1,193.5 C759.1,192.4 760.1,191.6 760.9,190.8 C761.8,190.0 762.5,189.4 763.1,188.7 C763.7,188.0 764.2,187.5 764.7,186.8 C765.2,186.1 765.6,185.5 766.0,184.7 C766.5,183.8 766.8,182.9 767.4,181.6 C767.9,180.3 768.4,178.5 769.3,176.8 C770.3,175.2 771.5,172.9 773.1,171.5 C774.7,170.1 776.9,168.8 778.9,168.3 C780.9,167.8 783.2,168.0 785.1,168.6 C787.0,169.2 789.0,170.5 790.3,172.1 C791.5,173.6 792.6,175.7 792.9,177.8 C793.2,179.9 792.8,182.4 792.1,184.4 C791.4,186.4 789.9,188.4 788.9,189.9 C787.8,191.5 786.7,192.5 785.9,193.5 Z" fill="none" stroke="#a53034" stroke-width="6.6" /><path d="M785.9,193.5 C785.0,194.6 784.5,195.2 784.0,196.0 C783.5,196.8 783.2,197.5 782.9,198.2 C782.5,199.0 782.3,199.7 782.0,200.6 C781.7,201.5 781.5,202.5 781.2,203.7 C780.9,204.8 780.6,206.2 780.0,207.7 C779.4,209.2 778.6,211.1 777.5,212.7 C776.4,214.2 774.8,215.9 773.1,217.0 C771.4,218.0 769.3,218.7 767.3,218.9 C765.4,219.1 763.1,218.8 761.3,218.2 C759.4,217.5 757.6,216.2 756.2,214.8 C754.8,213.3 753.7,211.4 753.1,209.5 C752.5,207.6 752.4,205.4 752.7,203.4 C753.0,201.4 753.9,199.4 754.8,197.7 C755.7,196.1 757.1,194.7 758.1,193.5 C759.1,192.4 760.1,191.6 760.9,190.8 C761.8,190.0 762.5,189.4 763.1,188.7 C763.7,188.0 764.2,187.5 764.7,186.8 C765.2,186.1 765.6,185.5 766.0,184.7 C766.5,183.8 766.8,182.9 767.4,181.6 C767.9,180.3 768.4,178.5 769.3,176.8 C770.3,175.2 771.5,172.9 773.1,171.5 C774.7,170.1 776.9,168.8 778.9,168.3 C780.9,167.8 783.2,168.0 785.1,168.6 C787.0,169.2 789.0,170.5 790.3,172.1 C791.5,173.6 792.6,175.7 792.9,177.8 C793.2,179.9 792.8,182.4 792.1,184.4 C791.4,186.4 789.9,188.4 788.9,189.9 C787.8,191.5 786.7,192.5 785.9,193.5 Z" fill="none" stroke="#ef8e86" stroke-width="4.2" /></g>
<ellipse cx="739.3" cy="231" rx="12.5" ry="14.5" fill="#ef8e86"/><ellipse cx="739.3" cy="231" rx="10.4" ry="12.4" fill="#a53034"/><ellipse cx="739.3" cy="231" rx="9.200000000000001" ry="11.200000000000001" fill="#c9484b"/><ellipse cx="739.3" cy="232" rx="5.5" ry="6.9" fill="#bb3b3f"/>
<ellipse cx="729.9" cy="214.3" rx="4.8" ry="4.8" fill="#e6f2e0"/><ellipse cx="729.9" cy="214.3" rx="3.3" ry="3.3" fill="#e6f2e0"/><ellipse cx="729.9" cy="214.3" rx="3.3" ry="3.3" fill="#a6d19b"/>
<ellipse cx="752.8" cy="219.7" rx="5.2" ry="5.2" fill="#e6f2e0"/><ellipse cx="752.8" cy="219.7" rx="3.7" ry="3.7" fill="#e6f2e0"/><ellipse cx="752.8" cy="219.7" rx="3.7" ry="3.7" fill="#a6d19b"/>
<ellipse cx="740.7" cy="249.5" rx="5.2" ry="5.2" fill="#e6f2e0"/><ellipse cx="740.7" cy="249.5" rx="3.7" ry="3.7" fill="#e6f2e0"/><ellipse cx="740.7" cy="249.5" rx="3.7" ry="3.7" fill="#a6d19b"/>
<path d="M204.0,131.0 C207.7,132.7 219.5,136.3 226.0,141.0 C232.5,145.7 237.2,153.9 243.0,159.0 C248.8,164.1 255.2,168.6 261.0,171.5 C266.8,174.4 274.8,175.5 277.5,176.3" fill="none" stroke="#5b3a7d" stroke-width="3" stroke-linecap="round"/>
<path d="M342.2,123.1 C345.6,122.0 355.5,118.9 362.4,116.6 C369.3,114.3 376.7,112.0 383.5,109.3 C390.3,106.6 396.8,102.7 403.0,100.4 C409.2,98.1 415.0,96.5 420.8,95.5 C426.6,94.5 435.0,94.6 437.8,94.4" fill="none" stroke="#5b3a7d" stroke-width="3" stroke-linecap="round"/>
<path d="M349.4,151.5 C352.9,151.1 363.5,150.2 370.5,149.0 C377.5,147.8 384.9,145.8 391.6,144.2 C398.4,142.6 405.4,140.5 411.0,139.3 C416.6,138.1 420.5,137.7 425.0,137.2 C429.5,136.7 435.7,136.6 437.8,136.5" fill="none" stroke="#5b3a7d" stroke-width="3" stroke-linecap="round"/>
<path d="M262.2,308.9 C265.7,310.0 274.2,314.1 283.3,315.6 C292.4,317.1 305.6,317.6 316.7,317.8 C327.8,318.0 338.9,317.4 350.0,316.7 C361.1,315.9 370.3,314.6 383.3,313.3 C396.3,312.0 411.9,310.5 427.8,308.9 C443.8,307.3 470.5,304.6 479.0,303.8" fill="none" stroke="#5b3a7d" stroke-width="3" stroke-linecap="round"/>
<path d="M611.0,304.0 C614.2,304.0 618.2,303.3 630.0,304.2 C641.8,305.1 664.5,307.9 681.8,309.4 C699.1,310.9 720.6,312.4 733.6,313.3 C746.6,314.2 750.6,315.2 760.0,314.6 C769.4,314.1 781.4,311.7 790.0,310.0 C798.6,308.3 808.2,305.2 811.8,304.3" fill="none" stroke="#5b3a7d" stroke-width="3" stroke-linecap="round"/>
<path d="M617.5,200.4 C619.4,200.9 624.8,200.9 629.0,203.3 C633.2,205.7 637.9,210.1 642.8,215.0 C647.7,219.9 653.2,227.3 658.4,232.5 C663.6,237.7 668.8,242.4 674.0,246.0 C679.2,249.6 684.3,252.3 689.5,254.0 C694.7,255.7 702.4,255.7 705.0,256.0" fill="none" stroke="#5b3a7d" stroke-width="3" stroke-linecap="round"/>
<path d="M778.3,145.3 C780.8,145.3 787.7,146.0 793.0,145.5 C798.3,145.0 804.4,143.7 810.0,142.2 C815.6,140.7 821.2,138.4 826.7,136.7 C832.2,135.0 836.6,133.3 843.3,132.2 C850.0,131.0 862.8,130.2 866.7,129.8" fill="none" stroke="#5b3a7d" stroke-width="3" stroke-linecap="round"/>
<path d="M733.7,291.0 C741.4,290.7 764.0,290.6 780.0,289.4 C796.0,288.2 812.4,286.0 830.0,284.0 C847.6,282.0 876.5,278.4 885.8,277.3" fill="none" stroke="#5b3a7d" stroke-width="3" stroke-linecap="round"/></svg>
<div class="t ttl" style="left:293px;top:21px">右肺</div>
<div class="t ttl" style="left:737px;top:21px">左肺</div>
<div class="t lab" style="left:45px;top:119px">上腔静脉凹槽</div>
<div class="t lab" style="left:442px;top:86px">食道凹槽</div>
<div class="t lab" style="left:448px;top:120px">奇静脉凹槽</div>
<div class="t lab" style="left:461px;top:190px">降主动脉凹槽</div>
<div class="t lab" style="left:486px;top:294px;font-size:29px">心脏印痕</div>
<div class="t lab" style="left:872px;top:116px">主动脉弓凹槽</div>
<div class="t lab" style="left:898px;top:266px">食道凹槽</div>
<div class="t sub" style="left:266px;top:402.5px">肺内视角</div>
<div class="t sub" style="left:720px;top:398.5px">肺内视角</div>
</body></html>
